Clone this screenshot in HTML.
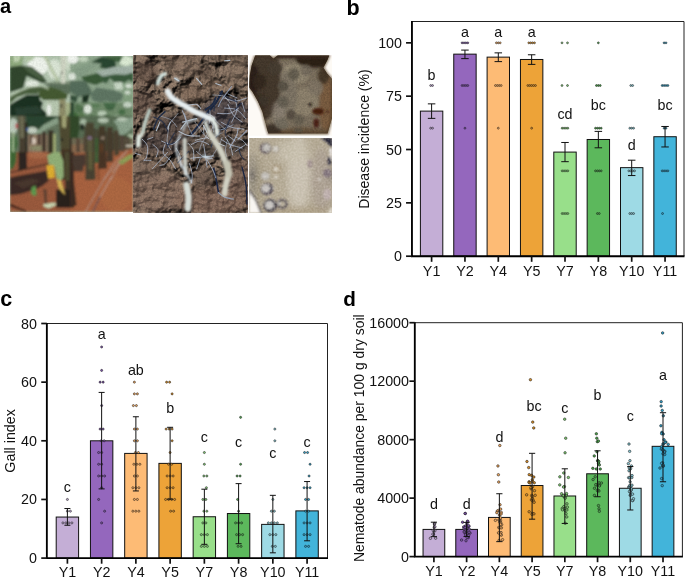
<!DOCTYPE html>
<html><head><meta charset="utf-8"><title>Figure</title>
<style>
html,body{margin:0;padding:0;background:#fff;}
body{width:685px;height:578px;overflow:hidden;font-family:"Liberation Sans", sans-serif;}
svg{display:block}
</style></head><body>
<div id="fig" style="will-change:transform;width:685px;height:578px">
<svg width="685" height="578" viewBox="0 0 685 578" font-family='"Liberation Sans", sans-serif' fill="#111">
<rect width="685" height="578" fill="#fff"/>
<defs>
<filter id="b05" x="-10%" y="-10%" width="120%" height="120%"><feGaussianBlur stdDeviation="0.8"/></filter>
<filter id="b1" x="-10%" y="-10%" width="120%" height="120%"><feGaussianBlur stdDeviation="0.8"/></filter>
<filter id="b2" x="-20%" y="-20%" width="140%" height="140%"><feGaussianBlur stdDeviation="1.8"/></filter>
<filter id="b3" x="-30%" y="-30%" width="160%" height="160%"><feGaussianBlur stdDeviation="3"/></filter>
<filter id="soil" x="0" y="0" width="100%" height="100%"><feTurbulence type="fractalNoise" baseFrequency="0.55" numOctaves="3" seed="4" result="n"/><feColorMatrix in="n" type="matrix" values="0 0 0 0 0  0 0 0 0 0  0 0 0 0 0  1.6 1.6 0 0 -1.15"/></filter>
<filter id="soilL" x="0" y="0" width="100%" height="100%"><feTurbulence type="fractalNoise" baseFrequency="0.5" numOctaves="3" seed="11" result="n"/><feColorMatrix in="n" type="matrix" values="0 0 0 0 1  0 0 0 0 0.92  0 0 0 0 0.85  0 1.6 1.6 0 -1.2"/></filter>
<filter id="clod" x="0" y="0" width="100%" height="100%"><feTurbulence type="fractalNoise" baseFrequency="0.09" numOctaves="2" seed="2" result="n"/><feColorMatrix in="n" type="matrix" values="0 0 0 0 0  0 0 0 0 0  0 0 0 0 0  2.2 2.2 0 0 -1.9"/></filter>
<filter id="bump" x="0" y="0" width="100%" height="100%" color-interpolation-filters="sRGB"><feTurbulence type="fractalNoise" baseFrequency="0.085" numOctaves="5" seed="9" result="n"/><feDiffuseLighting in="n" surfaceScale="9" diffuseConstant="1.05" lighting-color="#97816f" result="l"><feDistantLight azimuth="240" elevation="52"/></feDiffuseLighting><feComposite in="l" in2="SourceGraphic" operator="in"/></filter>
<clipPath id="c1"><rect x="10.1" y="55.9" width="123.1" height="156.0"/></clipPath>
<clipPath id="c2"><rect x="133.3" y="55.3" width="114.5" height="157.5"/></clipPath>
<clipPath id="c3"><rect x="249.2" y="55.2" width="82.8" height="80.5"/></clipPath>
<clipPath id="c4"><rect x="249.2" y="138.1" width="82.8" height="74.6"/></clipPath>
<radialGradient id="g3" cx="0.45" cy="0.5" r="0.62"><stop offset="0" stop-color="#b3a892"/><stop offset="0.55" stop-color="#9c8f79"/><stop offset="0.85" stop-color="#6b5a44"/><stop offset="1" stop-color="#46362a"/></radialGradient>
<radialGradient id="g4" cx="0.55" cy="0.45" r="0.7"><stop offset="0" stop-color="#d3cbbb"/><stop offset="0.5" stop-color="#c0b49c"/><stop offset="1" stop-color="#a59775"/></radialGradient>
<linearGradient id="gsoil1" x1="0" y1="0" x2="1" y2="1"><stop offset="0" stop-color="#8e4a2c"/><stop offset="1" stop-color="#ad5d36"/></linearGradient>
<linearGradient id="gsoil2" x1="0" y1="0" x2="0" y2="1"><stop offset="0" stop-color="#665041"/><stop offset="0.5" stop-color="#6f5747"/><stop offset="1" stop-color="#8a6652"/></linearGradient>
</defs>
<g clip-path="url(#c1)">
<rect x="10" y="55" width="124" height="158" fill="#a9bba5"/>
<g filter="url(#b1)">
<rect x="10" y="56" width="64" height="64" fill="#b4c6b0"/>
<ellipse cx="37.7" cy="66" rx="10.5" ry="9.4" fill="#eff4ec"/>
<ellipse cx="54.3" cy="69.3" rx="6.6" ry="10" fill="#dbe6d6"/>
<ellipse cx="69.8" cy="62.6" rx="5.5" ry="7.8" fill="#cfdcc8"/>
<ellipse cx="32.1" cy="83.7" rx="6.6" ry="3.3" fill="#e3ebdf"/>
<polygon points="10,56 23.8,56 22.2,65.4 10,67.1" fill="#8fab7e"/>
<polygon points="13.3,56 21.1,56 18.9,61.5 13.9,62.6" fill="#c2d5b3"/>
<polygon points="25.5,56 35.5,56 32.1,60.4 25.5,62.6" fill="#b4c9a8"/>
<polygon points="10,67.1 16.6,66 22.2,65.4 32.1,67.1 42.1,74.8 47.1,82 42.1,83.1 33.8,79.3 26.6,75.9 25,82 23.3,88.1 16.6,90.3 10,92.5" fill="#33472f"/>
<polygon points="22.2,65.7 32.1,67.1 46.5,81.7 37.7,78.1 27.7,71.5" fill="#4b6144"/>
<polygon points="39,88.1 51,86.8 58.7,89 67.8,94.2 66.7,99 56.5,100.5 43.2,99.9 38.6,95.9" fill="#445a30"/>
<polygon points="10,97.2 13.3,94.2 29.9,87.6 42.1,86.5 49,89.2 39.9,89.4 37.7,93.9 25.5,94.3 16.6,97.6 10,103.8" fill="#4a5f3c"/>
<path d="M10 96.5 L20 91.2 L29.9 87.1 L42.1 86.1 L48.3 89" fill="none" stroke="#a6b79b" stroke-width="1.4" stroke-linecap="round" stroke-linejoin="round"/>
<polygon points="43.2,83.7 54.3,81.7 74,81.2 74,94.8 67.6,93.9 58.7,89.2 51,87 46.5,85.7" fill="#5c705a"/>
<polygon points="43.8,83.5 54.3,81.6 74,81.1 74,83.9 57.6,83.7" fill="#86977f"/>
<polygon points="10,104.7 16.6,100.5 26.6,95 39,94.8 40.1,100.3 43.2,102.5 41.2,108 47.2,113.6 45.7,118.2 32.1,120 10,120" fill="#1f3024"/>
<polygon points="14.4,108 37.7,105.8 43.2,113.6 16.6,115.8" fill="#2b4030"/>
<path d="M44.9 56 L51 68.2 L57.4 80.1" fill="none" stroke="#b8c7a7" stroke-width="2.9" stroke-linecap="round" stroke-linejoin="round"/>
<path d="M63.2 56 L63.2 80.9" fill="none" stroke="#d0d6c4" stroke-width="5.1" stroke-linecap="round" stroke-linejoin="round"/>
<ellipse cx="61.8" cy="72.6" rx="0.7" ry="1.6" fill="#6a6a60"/>
<polygon points="46.5,100.3 59.8,100.3 58.7,120 46.5,120" fill="#b8c8b0"/>
<ellipse cx="49" cy="109.7" rx="2.2" ry="5.5" fill="#f0f4ee"/>
<polygon points="59.3,99.2 65.6,99.2 66,120 58.7,120" fill="#8d8c68"/>
<ellipse cx="61.2" cy="105.8" rx="1.1" ry="1.6" fill="#3a3a34"/>
<polygon points="65.9,102.5 71.1,102.5 70,120 65.9,120" fill="#a7b288"/>
<polygon points="70.9,98.1 74,98.1 74,120 69.8,120" fill="#4a5c34"/>
<rect x="70" y="56" width="63.1" height="64" fill="#8ea68c"/>
<ellipse cx="72.8" cy="58.8" rx="5.5" ry="5" fill="#f1f5ef"/>
<ellipse cx="125.9" cy="61" rx="7.5" ry="5" fill="#dcebd4"/>
<ellipse cx="72.2" cy="76.5" rx="3.8" ry="3.5" fill="#dfe8dc"/>
<ellipse cx="83.3" cy="59.1" rx="5" ry="2.9" fill="#c4d5be"/>
<polygon points="74.4,68.2 89.9,63.8 102.1,62.9 92.1,68.2 82.2,77 75.5,76.5" fill="#869e86"/>
<polygon points="91,62.1 102.1,56.6 115.4,59.9 116,66.5 106.5,69.1 99.3,67.6 101.6,63.8" fill="#2c4630"/>
<polygon points="103.2,56 123.2,56 119.3,62.9 114.3,60.4" fill="#3f6240"/>
<polygon points="81.1,77 99.9,72.6 103.2,82 95.5,85 84.4,81.7" fill="#3a5a38"/>
<polygon points="101,75.9 114.3,74.3 133.1,72.6 133.1,82.6 128.7,79.8 124.3,83.1 118.7,82 114.3,82.6 109.9,78.1 106.5,83.7 103.2,82" fill="#3a5a3c"/>
<polygon points="95.5,71.5 114.3,67.1 133.1,65.4 133.1,72.6 125.4,74.8 114.3,74.3 103.2,76.5 99.9,74.8" fill="#a3b3a8"/>
<polygon points="70,80.9 85.5,80.6 91,89.2 92.1,94.2 77.8,97 70,92" fill="#566e5b"/>
<polygon points="90.5,93.7 96.6,87.6 114.3,90.3 123.2,93.7 122,100.3 114.3,102.5 106.5,100.9 99.9,102.5 92.1,100.3" fill="#5e7663"/>
<polygon points="82.2,95.9 89.9,94.2 87.7,102.5 85.5,107.5 81.6,106.9" fill="#1f3322"/>
<polygon points="70,94.8 77.8,96.4 76.6,102.5 70,100.3" fill="#34503a"/>
<polygon points="123.2,82.6 133.1,82.6 133.1,102.5 123.2,102.5" fill="#84a080"/>
<ellipse cx="128.7" cy="85.9" rx="3.3" ry="2.2" fill="#d6e1d3"/>
<ellipse cx="127.6" cy="92.5" rx="2.9" ry="2" fill="#cfdccc"/>
<rect x="70" y="102.5" width="63.1" height="17.7" fill="#6f8a6b"/>
<ellipse cx="87.7" cy="109.2" rx="3.8" ry="4.4" fill="#dde6da"/>
<ellipse cx="127.6" cy="104.7" rx="4.4" ry="2.7" fill="#c8d6c6"/>
<ellipse cx="102.1" cy="113.6" rx="4.4" ry="2.8" fill="#b8cab4"/>
<ellipse cx="116.5" cy="117.5" rx="5.5" ry="2.2" fill="#a9bfa5"/>
<ellipse cx="109.9" cy="107.2" rx="4.2" ry="3.3" fill="#3f6040"/>
<ellipse cx="73.3" cy="116.4" rx="5.3" ry="5" fill="#456a3e"/>
<ellipse cx="122" cy="111.9" rx="3.5" ry="2.9" fill="#4a6e48"/>
<ellipse cx="81.1" cy="115.8" rx="3.3" ry="2.8" fill="#5a7a50"/>
<ellipse cx="95.5" cy="105.8" rx="4.4" ry="2.4" fill="#5d7f5a"/>
<polygon points="70,101.4 74.4,102.5 73.3,120 70,120" fill="#2f4a30"/>
<polygon points="113.7,82.6 122,82 123.2,89.2 115.4,89.8" fill="#c9d8c6"/>
<polygon points="103.2,102.5 116.5,103.1 114.3,108 105.4,108" fill="#456a47"/>
<polygon points="76.6,103.6 84.4,108 81.1,113.6 74.4,110.3" fill="#50704c"/>
<ellipse cx="106.5" cy="118" rx="5" ry="3.3" fill="#3c5c3a"/>
<ellipse cx="92.1" cy="118" rx="4.4" ry="2.7" fill="#44643f"/>
<rect x="10" y="116" width="64" height="37.7" fill="#65765e"/>
<polygon points="25.5,116 58.7,116 58.7,120.4 43.2,127.1 32.1,137 26.6,132.6" fill="#2f4632"/>
<ellipse cx="13.3" cy="126" rx="4.4" ry="7.8" fill="#bccbbb"/>
<ellipse cx="32.1" cy="130.4" rx="5.5" ry="3.3" fill="#c4cfc0"/>
<polygon points="26.6,118.2 43.2,117.7 44.3,124.9 27.7,125.4" fill="#2c4430"/>
<polygon points="32.1,135.9 43.2,124.9 57.6,117.1 58.7,122.9 47.7,128.4 35.5,137.3" fill="#8aa088"/>
<polygon points="27.7,134.3 47.7,134.3 47.7,152.8 27.7,152.8" fill="#8c7762"/>
<ellipse cx="33.5" cy="141" rx="2.4" ry="3.3" fill="#dccdbd"/>
<ellipse cx="37.7" cy="148.1" rx="7.8" ry="2.4" fill="#8a8a68"/>
<polygon points="37.7,133.7 40.6,133.7 40.6,145 37.7,145" fill="#4a3a30"/>
<polygon points="42.1,131.5 45.7,131.5 45.7,151.7 42.1,151.7" fill="#3c3228"/>
<polygon points="29.9,134.8 32.1,134.8 32.1,143.7 29.9,143.7" fill="#5a4a3c"/>
<polygon points="10,153.1 48.2,152 48.2,180 10,180" fill="#8d553b"/>
<polygon points="70,147.6 133.1,143.7 133.1,180 70,180" fill="#9d5d40"/>
<rect x="10" y="152" width="64" height="59.8" fill="#9a5a3c"/>
<rect x="70" y="152" width="63.1" height="59.8" fill="#a8623f"/>
<ellipse cx="37.7" cy="155.3" rx="10" ry="3.3" fill="#a96a48"/>
<ellipse cx="116.5" cy="194.1" rx="16.6" ry="17.7" fill="#ad6743"/>
<polygon points="10,138.1 16.6,135.9 17.8,144.8 14.4,152.5 10,162.5" fill="#3f6a3a"/>
<path d="M13.3 132.6 L13.1 160.3" fill="none" stroke="#a8c098" stroke-width="1.8" stroke-linecap="round" stroke-linejoin="round"/>
<polygon points="10,152 16.6,152 16.1,162 13.3,168.6 10,169.7" fill="#3f6636"/>
<polygon points="17.8,116 25,116 25.5,138.1 26.6,168 18.3,171.4 19.4,143.7" fill="#4a4032"/>
<polygon points="19.1,116 23.8,116 24.2,138.1 20,138.1" fill="#6c6b52"/>
<polygon points="25,122.6 27.3,122.6 27.7,152.5 25.5,152.5" fill="#2c2a24"/>
<ellipse cx="16.6" cy="126" rx="1" ry="3.1" fill="#b8343f"/>
<ellipse cx="27.2" cy="129.3" rx="1.1" ry="1.8" fill="#3a5a9a"/>
<polygon points="18.3,152 26.6,152 27.2,168.6 18.9,170.8" fill="#2e2822"/>
<polygon points="48.2,130.4 53.4,130.4 53.4,153.1 48.2,153.1" fill="#3a3428"/>
<path d="M54.5 134.8 L54.5 153.1" fill="none" stroke="#a8b478" stroke-width="2.4" stroke-linecap="round" stroke-linejoin="round"/>
<polygon points="58.7,116 69.8,116 70.7,180 61.2,180 60.7,149.2" fill="#504c31"/>
<polygon points="61.8,116 66.7,116 65.9,128.2 62,127.1" fill="#a3a476"/>
<polygon points="60.9,149.2 70.7,149.2 71.1,180 61.2,180" fill="#453626"/>
<polygon points="69.8,116 74,116 74,180 70.4,180" fill="#39492c"/>
<ellipse cx="62" cy="139.8" rx="1.6" ry="1.3" fill="#252520"/>
<rect x="70" y="116" width="63.1" height="32.1" fill="#586c52"/>
<polygon points="70,116 78.9,116 79.4,129.3 76.6,143.7 70,144.8" fill="#304a2c"/>
<polygon points="113.2,120.4 133.1,117.1 133.1,127.1 127.6,132.6 118.7,137 117.6,127.1" fill="#8ba28c"/>
<ellipse cx="103.2" cy="120.4" rx="5.5" ry="2.7" fill="#b2c3ae"/>
<ellipse cx="122" cy="119.3" rx="5.5" ry="2" fill="#b9c9b5"/>
<ellipse cx="83.3" cy="122.6" rx="3.3" ry="3.8" fill="#a5b8a1"/>
<ellipse cx="82.2" cy="127.1" rx="2" ry="3.3" fill="#222a20"/>
<ellipse cx="130.4" cy="137" rx="2.8" ry="3.3" fill="#a8bca0"/>
<rect x="70" y="138.1" width="63.1" height="10" fill="#6f6a52"/>
<polygon points="84.4,126 129.8,137 129.8,149.2 84.4,153.1" fill="#4a4a38"/>
<polygon points="70,144.8 85.5,143.7 85.5,152.5 70,153.7" fill="#8a6a50"/>
<polygon points="76.1,138.1 80,138.1 80,152.5 76.1,152.5" fill="#5a4a3a"/>
<polygon points="83.3,135.9 86.1,135.9 86.1,151.4 83.3,151.4" fill="#54483a"/>
<polygon points="85.5,122.6 93.8,122.6 94.9,180 85.5,180" fill="#4a4532"/>
<polygon points="87.7,137 92.1,137 92.6,162.5 87.7,162.5" fill="#5c5a3e"/>
<ellipse cx="89.7" cy="138.1" rx="2.4" ry="2" fill="#7c6a80"/>
<polygon points="94.9,138.1 98.3,138.1 98.3,162.5 94.9,162.5" fill="#3f5c34"/>
<polygon points="99,126 105.4,126 106.5,168 98.2,169.2" fill="#453a2c"/>
<polygon points="99.5,143.7 103.2,143.7 103.7,162.5 99.5,162.5" fill="#5a3a28"/>
<ellipse cx="102.8" cy="138.1" rx="2" ry="1.8" fill="#8a7a6a"/>
<polygon points="107.1,127.1 112.6,127.1 113.2,160.3 106.5,161.4" fill="#473d2e"/>
<polygon points="113.7,130.4 118.7,130.4 119.3,154.8 114.3,155.9" fill="#4c4232"/>
<polygon points="119.8,135.9 124.3,135.9 124.3,151.4 119.8,151.4" fill="#52473a"/>
<polygon points="124.8,138.1 128.7,138.1 128.7,148.1 124.8,148.1" fill="#5a5040"/>
<polygon points="70,138.1 71.7,138.1 71.7,180 70,180" fill="#2e2620"/>
<polygon points="70,154.8 84.4,154.8 83.3,171.4 70,171.4" fill="#4a3a30"/>
<polygon points="118.7,162.5 132,153.7 133.1,157.2 122,164.9" fill="#8a9a58"/>
<polygon points="125.9,145 133.1,145 133.1,146.6 125.9,146.6" fill="#d8d0c0"/>
<path d="M128.7 148.1 L118.7 162.5 L103.2 180" fill="none" stroke="#b8b0a8" stroke-width="0.6" stroke-linecap="round" stroke-linejoin="round" opacity="0.8"/>
<path d="M119.8 163.6 L111 180" fill="none" stroke="#b8b0a8" stroke-width="0.6" stroke-linecap="round" stroke-linejoin="round" opacity="0.8"/>
<polygon points="10,177.5 21.1,175.3 46.5,170.8 48.8,180.8 43.2,185.2 37.7,188.5 21.1,194.1 10,195.2" fill="#3a2b25"/>
<polygon points="13.3,183 32.1,178.6 41,181 23.3,188.5" fill="#4a372f"/>
<path d="M10 172.5 L27.7 168.6 L52.1 163.1" fill="none" stroke="#3a2a24" stroke-width="1.1" stroke-linecap="round" stroke-linejoin="round"/>
<polygon points="31.6,187.4 35.5,185.2 36.6,195.2 33.3,195.7 31,193" fill="#5f9a50"/>
<polygon points="63.2,152 74,152 74,207.4 56.5,207.4 57.6,189.7 65.4,188.5" fill="#3e3226"/>
<polygon points="64.8,152 69.2,152 69.2,180.8 65.4,180.8" fill="#504b30"/>
<polygon points="56,189.7 74,189.7 74,207.4 56,207.4" fill="#2c221e"/>
<polygon points="47.1,155.3 54.3,152 59.8,152 63.2,160.9 63.7,176.4 60.9,180.8 56.5,178.6 54.3,166.4 48.8,164.2" fill="#92b078"/>
<polygon points="46.5,165.3 53.7,165.1 54.9,177.5 48.2,178.6" fill="#e0b030"/>
<polygon points="56.5,178.6 60.9,180.8 65.4,195.2 62,191.9 58.7,187.4" fill="#d8b858"/>
<polygon points="43.2,204 55.4,202.4 56,205.2 48.8,208.5 43.8,206.8" fill="#c8d4b0"/>
<polygon points="43.2,188.5 46.5,189.7 47.1,204 44.9,204" fill="#5a4030"/>
<polygon points="10,203.5 26.6,210.7 25.5,212 10,206.3" fill="#3a241c"/>
<polygon points="70,152 72.2,152 74.4,185.2 76.6,205.2 70,207.4" fill="#3a2c24"/>
<polygon points="86.6,152 94.4,152 95.7,178.6 85.5,179.7" fill="#4a4330"/>
<polygon points="88.3,152 92.1,152 92.6,169.7 88.3,169.7" fill="#5f5c3a"/>
<polygon points="98.8,152 105.4,152 107.1,168.6 98.2,168.6" fill="#4a3428"/>
<polygon points="107.1,152 111.5,152 113.2,162 106.5,162" fill="#4a3a2e"/>
<polygon points="94.9,152 98.2,152 98.2,163.1 94.9,163.1" fill="#40603a"/>
<polygon points="72.2,155.3 85.5,154.2 85.5,165.3 73.3,169.7" fill="#4a3a30"/>
<polygon points="117.6,162 129.8,154.2 132,157.5 122,163.6" fill="#8fa058"/>
<path d="M126.5 152 L114.3 163.1 L103.2 180.8 L85.5 211.8" fill="none" stroke="#b8b0ac" stroke-width="0.7" stroke-linecap="round" stroke-linejoin="round" opacity="0.95"/>
<path d="M119.3 163.1 L112.6 173" fill="none" stroke="#bdb6b4" stroke-width="0.7" stroke-linecap="round" stroke-linejoin="round" opacity="0.95"/>
<path d="M112.1 175.8 L99.9 197.4" fill="none" stroke="#c0bcc0" stroke-width="0.7" stroke-linecap="round" stroke-linejoin="round" opacity="0.9"/>
<path d="M99.9 197.4 L92.7 211.8" fill="none" stroke="#474c60" stroke-width="1" stroke-linecap="round" stroke-linejoin="round"/>
<path d="M98.2 166.4 L98.8 179.7" fill="none" stroke="#5a3a28" stroke-width="0.9" stroke-linecap="round" stroke-linejoin="round"/>
</g>
<rect x="10" y="55" width="124" height="158" filter="url(#soil)" opacity="0.05"/>
</g>
<g clip-path="url(#c2)">
<rect x="133" y="55" width="116" height="159" fill="#7a6355"/>
<rect x="133" y="55" width="116" height="159" fill="#000" filter="url(#bump)"/>
<g filter="url(#b3)" opacity="0.62">
<ellipse cx="182.6" cy="66" rx="19.3" ry="10.5" fill="#927a69"/>
<ellipse cx="236.9" cy="71.3" rx="12.3" ry="15.8" fill="#8f7968"/>
<ellipse cx="214.1" cy="85.3" rx="10.5" ry="7" fill="#937a68"/>
<ellipse cx="193.1" cy="93.2" rx="14" ry="8.8" fill="#8a715f"/>
<ellipse cx="145.8" cy="73" rx="12.3" ry="12.3" fill="#6a5549"/>
<ellipse cx="144" cy="104.6" rx="12.3" ry="14" fill="#66534a"/>
<ellipse cx="228.1" cy="56.2" rx="21" ry="3.2" fill="#3e3029"/>
<ellipse cx="173.8" cy="56.2" rx="26.3" ry="2.1" fill="#42332b"/>
<ellipse cx="205.3" cy="73" rx="8.8" ry="5.3" fill="#4a3a31"/>
<ellipse cx="224.6" cy="113.3" rx="24.5" ry="15.8" fill="#45404a"/>
<ellipse cx="173.8" cy="123.8" rx="21" ry="10.5" fill="#4d4340"/>
<ellipse cx="165" cy="142.8" rx="31.5" ry="10.5" fill="#4b413f"/>
<ellipse cx="214.1" cy="146.3" rx="35" ry="12.3" fill="#4f4643"/>
<ellipse cx="156.3" cy="191.8" rx="29.8" ry="21" fill="#96796a"/>
<ellipse cx="212.3" cy="200.6" rx="38.5" ry="14" fill="#8f6e5e"/>
<ellipse cx="238.6" cy="177.8" rx="12.3" ry="21" fill="#82665a"/>
<ellipse cx="147.5" cy="167.3" rx="15.8" ry="8.8" fill="#806a5d"/>
<ellipse cx="203.6" cy="177.8" rx="10.5" ry="12.3" fill="#6c5a4f"/>
</g>
<rect x="133" y="55" width="116" height="159" filter="url(#soil)" opacity="0.16"/>
<g>
<path d="M222 91.4 C221 93.3 218.3 99.2 215.8 102.8 C213.4 106.5 210 109.5 207.1 113.3 C204.2 117.1 201 122.1 198.3 125.6 C195.7 129 192.5 132.6 191.3 134" fill="none" stroke="#1b2740" stroke-width="2.1" stroke-linecap="round" stroke-linejoin="round"/>
<path d="M215.8 97.6 C215.3 98.7 214.1 102.5 212.3 104.6 C210.6 106.6 206.5 108.9 205.3 109.8" fill="none" stroke="#1d2a45" stroke-width="1.6" stroke-linecap="round" stroke-linejoin="round"/>
<path d="M165 111.6 C163.9 112.7 159.9 115.7 158 118.6 C156.1 121.5 154.4 127.3 153.7 129.1" fill="none" stroke="#232d42" stroke-width="1.6" stroke-linecap="round" stroke-linejoin="round"/>
<path d="M213.7 168.2 C214.2 170.1 215.4 175.5 216.2 179.6 C217 183.6 218.1 190.5 218.5 192.7" fill="none" stroke="#1d2744" stroke-width="1.6" stroke-linecap="round" stroke-linejoin="round"/>
<path d="M242.1 167.3 C242.8 170.2 245.2 178.7 246 184.8 C246.8 190.9 246.9 200.9 247 204.1" fill="none" stroke="#1b2540" stroke-width="1.4" stroke-linecap="round" stroke-linejoin="round"/>
<path d="M218.5 192.7 C219.5 193.4 222.1 196 224.6 197.1 C227.1 198.1 231.9 198.8 233.4 199.2" fill="none" stroke="#8d9bb0" stroke-width="1.2" stroke-linecap="round" stroke-linejoin="round"/>
<path d="M222.9 97.6 C224.9 98.1 231.1 101 235.1 101.1 C239.1 101.1 245 98.4 247 97.9" fill="none" stroke="#a9b7cc" stroke-width="0.9" stroke-linecap="round" stroke-linejoin="round" opacity="0.85"/>
<path d="M224.6 108.1 C226.6 108.4 233.4 108.1 236.9 109.8 C240.4 111.6 244.2 117.1 245.6 118.6" fill="none" stroke="#a9b7cc" stroke-width="0.9" stroke-linecap="round" stroke-linejoin="round" opacity="0.85"/>
<path d="M228.1 104.6 C229 106.3 231 112.1 233.4 115.1 C235.7 118 240.7 120.9 242.1 122.1" fill="none" stroke="#a9b7cc" stroke-width="0.9" stroke-linecap="round" stroke-linejoin="round" opacity="0.85"/>
<path d="M217.6 113.3 C219.6 113.3 226.4 114.2 229.9 113.3 C233.4 112.4 237.2 108.9 238.6 108.1" fill="none" stroke="#a9b7cc" stroke-width="0.9" stroke-linecap="round" stroke-linejoin="round" opacity="0.85"/>
<path d="M235.1 99.3 C235.4 101.1 237.5 106 236.9 109.8 C236.3 113.6 232.5 120 231.6 122.1" fill="none" stroke="#a9b7cc" stroke-width="0.9" stroke-linecap="round" stroke-linejoin="round" opacity="0.85"/>
<path d="M221.1 122.1 C222.9 123 227.8 126.2 231.6 127.3 C235.4 128.5 241.8 128.8 243.9 129.1" fill="none" stroke="#a9b7cc" stroke-width="0.9" stroke-linecap="round" stroke-linejoin="round" opacity="0.85"/>
<path d="M242.1 102.8 C242.6 104.3 244.3 110.1 244.8 111.6" fill="none" stroke="#a9b7cc" stroke-width="0.9" stroke-linecap="round" stroke-linejoin="round" opacity="0.85"/>
<path d="M228.1 94 C229.6 94.7 235.4 97.3 236.9 97.9" fill="none" stroke="#a9b7cc" stroke-width="0.9" stroke-linecap="round" stroke-linejoin="round" opacity="0.85"/>
<path d="M182.6 122.1 C183.7 121.8 187.2 120.9 189.6 120.3 C191.9 119.7 195.4 118.9 196.6 118.6" fill="none" stroke="#b7c6d6" stroke-width="1.1" stroke-linecap="round" stroke-linejoin="round" opacity="0.9"/>
<path d="M180.8 129.1 C181.7 127.9 185.2 123.2 186.1 122.1" fill="none" stroke="#b7c6d6" stroke-width="1.1" stroke-linecap="round" stroke-linejoin="round" opacity="0.9"/>
<path d="M170.3 122.1 C169.9 123.2 168.1 127.9 167.7 129.1" fill="none" stroke="#b7c6d6" stroke-width="1.1" stroke-linecap="round" stroke-linejoin="round" opacity="0.9"/>
<path d="M159.8 122.1 C159.2 123.5 156.9 129.4 156.3 130.8" fill="none" stroke="#b7c6d6" stroke-width="1.1" stroke-linecap="round" stroke-linejoin="round" opacity="0.9"/>
<path d="M203.6 125.6 C204.2 126.7 206.5 131.4 207.1 132.6" fill="none" stroke="#b7c6d6" stroke-width="1.1" stroke-linecap="round" stroke-linejoin="round" opacity="0.9"/>
<path d="M196.6 78.3 C197.4 79.3 201 83.4 201.8 84.4" fill="none" stroke="#b7c6d6" stroke-width="1.1" stroke-linecap="round" stroke-linejoin="round" opacity="0.9"/>
<path d="M215.8 83.5 C216.7 83.8 220.2 85 221.1 85.3" fill="none" stroke="#b7c6d6" stroke-width="1.1" stroke-linecap="round" stroke-linejoin="round" opacity="0.9"/>
<path d="M174.7 78.3 C175.4 78.7 178.3 80.5 179.1 80.9" fill="none" stroke="#b7c6d6" stroke-width="1.1" stroke-linecap="round" stroke-linejoin="round" opacity="0.9"/>
<path d="M224.6 60.8 C225.5 60.7 229 60.5 229.9 60.4" fill="none" stroke="#b7c6d6" stroke-width="1.1" stroke-linecap="round" stroke-linejoin="round" opacity="0.9"/>
<path d="M142.3 139.3 C143.1 140.4 146.8 143.3 147.5 146.3 C148.2 149.2 147.2 154.4 146.6 156.8 C146.1 159.1 144.5 159.7 144 160.3" fill="none" stroke="#aebbd0" stroke-width="0.9" stroke-linecap="round" stroke-linejoin="round" opacity="0.85"/>
<path d="M144 160.3 C145.2 160.3 149.9 160.3 151 160.3" fill="none" stroke="#aebbd0" stroke-width="0.9" stroke-linecap="round" stroke-linejoin="round" opacity="0.85"/>
<path d="M152.8 144.5 C153.7 145.4 157.4 147.7 158 149.8 C158.6 151.8 156.6 155.6 156.3 156.8" fill="none" stroke="#aebbd0" stroke-width="0.9" stroke-linecap="round" stroke-linejoin="round" opacity="0.85"/>
<path d="M165 144.5 C164.7 146 162.4 150.6 163.3 153.3 C164.2 155.9 168.3 157.7 170.3 160.3 C172.3 162.9 174.7 167.6 175.6 169" fill="none" stroke="#aebbd0" stroke-width="0.9" stroke-linecap="round" stroke-linejoin="round" opacity="0.85"/>
<path d="M161.5 141 C163.3 141.6 168.8 145.1 172 144.5 C175.3 143.9 179.3 138.7 180.8 137.5" fill="none" stroke="#aebbd0" stroke-width="0.9" stroke-linecap="round" stroke-linejoin="round" opacity="0.85"/>
<path d="M191.3 144.5 C192.8 143.9 197.2 141 200.1 141 C203 141 207.4 143.9 208.8 144.5" fill="none" stroke="#aebbd0" stroke-width="0.9" stroke-linecap="round" stroke-linejoin="round" opacity="0.85"/>
<path d="M196.6 151.5 C197.7 152.4 201 155.6 203.6 156.8 C206.2 157.9 210.9 158.2 212.3 158.5" fill="none" stroke="#aebbd0" stroke-width="0.9" stroke-linecap="round" stroke-linejoin="round" opacity="0.85"/>
<path d="M203.6 144.5 C203.9 146.3 204.7 151.2 205.3 155 C205.9 158.8 206.8 165.2 207.1 167.3" fill="none" stroke="#aebbd0" stroke-width="0.9" stroke-linecap="round" stroke-linejoin="round" opacity="0.85"/>
<path d="M221.1 139.3 C222.6 140.1 226.4 143.1 229.9 144.5 C233.4 146 240.1 147.4 242.1 148" fill="none" stroke="#aebbd0" stroke-width="0.9" stroke-linecap="round" stroke-linejoin="round" opacity="0.85"/>
<path d="M228.1 135.8 C229.3 136.6 233.9 140.1 235.1 141" fill="none" stroke="#aebbd0" stroke-width="0.9" stroke-linecap="round" stroke-linejoin="round" opacity="0.85"/>
<path d="M189.6 163.8 C190 165.5 191.9 171.1 192.2 174.3 C192.5 177.5 191.5 181.6 191.3 183.1" fill="none" stroke="#aebbd0" stroke-width="0.9" stroke-linecap="round" stroke-linejoin="round" opacity="0.85"/>
<path d="M200.1 158.5 C199.5 160.3 197.2 167.3 196.6 169" fill="none" stroke="#aebbd0" stroke-width="0.9" stroke-linecap="round" stroke-linejoin="round" opacity="0.85"/>
<path d="M170.3 156.8 C169.4 157.9 166.8 162.3 165 163.8 C163.3 165.2 160.7 165.2 159.8 165.5" fill="none" stroke="#aebbd0" stroke-width="0.9" stroke-linecap="round" stroke-linejoin="round" opacity="0.85"/>
<path d="M135.3 153.3 C136.1 153.6 139.6 154.7 140.5 155" fill="none" stroke="#aebbd0" stroke-width="0.9" stroke-linecap="round" stroke-linejoin="round" opacity="0.85"/>
<path d="M235.1 151.5 C236.9 150.4 243.9 145.7 245.6 144.5" fill="none" stroke="#aebbd0" stroke-width="0.9" stroke-linecap="round" stroke-linejoin="round" opacity="0.85"/>
<path d="M207.1 160.3 C208 161.7 210.9 166.1 212.3 169 C213.8 172 215.3 176.3 215.8 177.8" fill="none" stroke="#aebbd0" stroke-width="0.9" stroke-linecap="round" stroke-linejoin="round" opacity="0.85"/>
<path d="M147.5 139.3 C148.4 139 151.9 137.8 152.8 137.5" fill="none" stroke="#aebbd0" stroke-width="0.9" stroke-linecap="round" stroke-linejoin="round" opacity="0.85"/>
<path d="M174.4 133.1 C173.5 134.6 170.3 139.8 169.2 142.3 C168.1 144.8 167.9 147 167.7 147.9" fill="none" stroke="#252f47" stroke-width="1.1" stroke-linecap="round" stroke-linejoin="round" opacity="0.85"/>
<path d="M227.4 139.8 C227.1 141.5 225.5 147 225.4 149.8 C225.3 152.6 226.5 155.4 226.8 156.5" fill="none" stroke="#a9b7cc" stroke-width="0.7" stroke-linecap="round" stroke-linejoin="round" opacity="0.8"/>
<path d="M179 131.4 C180.5 132.1 184.3 134.7 187.7 135.4 C191.2 136.2 197.8 135.9 199.8 136" fill="none" stroke="#b9c7d8" stroke-width="1.1" stroke-linecap="round" stroke-linejoin="round" opacity="0.8"/>
<path d="M167.7 152.2 C166.6 153.5 163.4 157 160.8 159.7 C158.2 162.5 153.8 167.2 152.4 168.7" fill="none" stroke="#a9b7cc" stroke-width="0.9" stroke-linecap="round" stroke-linejoin="round" opacity="0.8"/>
<path d="M209.8 130.3 C208.5 132.5 203.3 140.3 201.5 143.8 C199.8 147.3 199.6 150 199.2 151.3" fill="none" stroke="#a9b7cc" stroke-width="0.7" stroke-linecap="round" stroke-linejoin="round" opacity="0.8"/>
<path d="M219.7 92.2 C221 93.1 225 96.1 227.9 97.7 C230.9 99.3 235.8 101.3 237.4 102" fill="none" stroke="#252f47" stroke-width="1.1" stroke-linecap="round" stroke-linejoin="round" opacity="0.85"/>
<path d="M168.8 128.1 C168.5 130.4 166.8 138 167.1 141.6 C167.4 145.2 170.2 148.4 170.8 149.7" fill="none" stroke="#b9c7d8" stroke-width="0.7" stroke-linecap="round" stroke-linejoin="round" opacity="0.8"/>
<path d="M222.1 137.4 C221.6 138.7 220.9 141.9 219 145.3 C217.1 148.8 212.2 156.1 210.8 158.3" fill="none" stroke="#a9b7cc" stroke-width="0.7" stroke-linecap="round" stroke-linejoin="round" opacity="0.8"/>
<path d="M203.9 125.4 C203.9 126.9 203.3 132 204.1 134.3 C204.9 136.5 208 137.9 208.8 138.7" fill="none" stroke="#c9d4e0" stroke-width="0.9" stroke-linecap="round" stroke-linejoin="round" opacity="0.8"/>
<path d="M184.6 113.6 C185.2 115.6 186.8 122 188.2 125.8 C189.6 129.6 192.4 134.7 193.2 136.5" fill="none" stroke="#a9b7cc" stroke-width="0.7" stroke-linecap="round" stroke-linejoin="round" opacity="0.8"/>
<path d="M174.9 142 C173.7 142.5 169.2 144.8 167.8 144.9 C166.3 145 166.4 142.9 166.1 142.5" fill="none" stroke="#252f47" stroke-width="1.1" stroke-linecap="round" stroke-linejoin="round" opacity="0.85"/>
<path d="M211.4 122.9 C211.6 123.5 213.4 124.4 212.9 126.6 C212.3 128.9 209.1 134.7 208.3 136.4" fill="none" stroke="#a9b7cc" stroke-width="0.7" stroke-linecap="round" stroke-linejoin="round" opacity="0.8"/>
<path d="M222.2 132.9 C221.4 133.2 219.8 133.6 217.8 134.8 C215.7 135.9 211.3 139 210 139.9" fill="none" stroke="#93a3bd" stroke-width="0.7" stroke-linecap="round" stroke-linejoin="round" opacity="0.8"/>
<path d="M225.2 137.1 C226 138.5 228.8 142 230.1 145.1 C231.3 148.1 232.3 153.5 232.7 155.2" fill="none" stroke="#b9c7d8" stroke-width="0.9" stroke-linecap="round" stroke-linejoin="round" opacity="0.8"/>
<path d="M241.4 103.1 C240.7 103.8 238.3 106.3 237.3 107.3 C236.3 108.4 235.5 109.2 235.2 109.6" fill="none" stroke="#252f47" stroke-width="1.1" stroke-linecap="round" stroke-linejoin="round" opacity="0.85"/>
<path d="M207.7 137.8 C206.7 137.9 204 138.2 201.9 138.6 C199.8 139.1 196.4 140 195.3 140.3" fill="none" stroke="#c9d4e0" stroke-width="0.9" stroke-linecap="round" stroke-linejoin="round" opacity="0.8"/>
<path d="M229.6 124.8 C228.7 125.4 225.3 127.9 223.9 128.6 C222.5 129.4 221.7 129.3 221.3 129.5" fill="none" stroke="#93a3bd" stroke-width="0.7" stroke-linecap="round" stroke-linejoin="round" opacity="0.8"/>
<path d="M186.9 105.3 C188.5 105.2 194 103.8 196.3 104.3 C198.6 104.8 199.9 107.7 200.6 108.4" fill="none" stroke="#b9c7d8" stroke-width="1.1" stroke-linecap="round" stroke-linejoin="round" opacity="0.8"/>
<path d="M212.8 95 C214.6 95.2 221.1 95.1 224 96.4 C226.8 97.8 229 101.9 230 103" fill="none" stroke="#c9d4e0" stroke-width="0.7" stroke-linecap="round" stroke-linejoin="round" opacity="0.8"/>
<path d="M239.1 149 C239.4 150 239.8 153.2 240.6 154.9 C241.3 156.6 243.2 158.5 243.7 159.2" fill="none" stroke="#252f47" stroke-width="1.1" stroke-linecap="round" stroke-linejoin="round" opacity="0.85"/>
<path d="M233.1 124.7 C231.4 125.5 225.6 128.7 223 129.5 C220.5 130.3 218.5 129.6 217.6 129.7" fill="none" stroke="#93a3bd" stroke-width="0.7" stroke-linecap="round" stroke-linejoin="round" opacity="0.8"/>
<path d="M231.5 86.5 C229.9 88.7 224.1 96.2 221.9 99.5 C219.7 102.8 219 105.2 218.4 106.4" fill="none" stroke="#93a3bd" stroke-width="1.1" stroke-linecap="round" stroke-linejoin="round" opacity="0.8"/>
<path d="M176.2 148.3 C176.9 149.6 179.4 153 180.2 156.2 C181 159.3 180.9 165.4 181 167.2" fill="none" stroke="#b9c7d8" stroke-width="0.7" stroke-linecap="round" stroke-linejoin="round" opacity="0.8"/>
<path d="M161.1 116.3 C162.7 116.9 168.1 118 170.8 119.7 C173.4 121.5 175.8 125.6 176.8 126.8" fill="none" stroke="#a9b7cc" stroke-width="0.7" stroke-linecap="round" stroke-linejoin="round" opacity="0.8"/>
<path d="M215.7 97.1 C215.5 98.3 215.1 101.7 214.8 104 C214.5 106.3 214.1 109.7 214 110.9" fill="none" stroke="#252f47" stroke-width="1.1" stroke-linecap="round" stroke-linejoin="round" opacity="0.85"/>
<path d="M178.1 113.4 C176.7 115 171.6 120.9 169.9 123.2 C168.1 125.4 167.8 126.5 167.4 127.2" fill="none" stroke="#a9b7cc" stroke-width="0.7" stroke-linecap="round" stroke-linejoin="round" opacity="0.8"/>
<path d="M188.1 143.4 C189 144.5 192.2 146.8 193.2 149.6 C194.1 152.4 193.6 158.5 193.7 160.2" fill="none" stroke="#b9c7d8" stroke-width="0.9" stroke-linecap="round" stroke-linejoin="round" opacity="0.8"/>
<path d="M246.8 130.5 C245.7 131.6 241.7 135.7 240.2 137.2 C238.8 138.7 238.4 139.2 238 139.5" fill="none" stroke="#93a3bd" stroke-width="1.1" stroke-linecap="round" stroke-linejoin="round" opacity="0.8"/>
<path d="M230 119.1 C229.2 121 225.9 127.5 225.3 130.3 C224.6 133.2 225.9 135.1 226.1 136" fill="none" stroke="#252f47" stroke-width="1.1" stroke-linecap="round" stroke-linejoin="round" opacity="0.85"/>
<path d="M209.8 110.1 C209.8 111.1 210.3 113.8 210.2 116 C210.1 118.2 209.3 122.2 209.1 123.5" fill="none" stroke="#b9c7d8" stroke-width="0.7" stroke-linecap="round" stroke-linejoin="round" opacity="0.8"/>
<path d="M207.4 114 C208.2 114.3 211 115 212.4 115.9 C213.7 116.9 214.8 119.2 215.3 119.8" fill="none" stroke="#c9d4e0" stroke-width="0.7" stroke-linecap="round" stroke-linejoin="round" opacity="0.8"/>
<path d="M238 128.1 C237.8 129.3 238.2 131.7 236.8 135 C235.5 138.3 230.9 145.8 229.7 148" fill="none" stroke="#a9b7cc" stroke-width="1.1" stroke-linecap="round" stroke-linejoin="round" opacity="0.8"/>
<path d="M214.3 117.1 C214.1 118.4 213.4 122.6 213.3 125.1 C213.1 127.6 213.4 130.8 213.5 131.9" fill="none" stroke="#b9c7d8" stroke-width="0.7" stroke-linecap="round" stroke-linejoin="round" opacity="0.8"/>
<path d="M153.6 117 C155.1 117.8 160.3 119.6 162.6 121.9 C165 124.2 166.9 129.4 167.7 130.9" fill="none" stroke="#252f47" stroke-width="1.1" stroke-linecap="round" stroke-linejoin="round" opacity="0.85"/>
<path d="M215.5 120.3 C216.4 121.2 219 123.8 220.9 125.4 C222.7 127.1 225.5 129.6 226.4 130.4" fill="none" stroke="#a9b7cc" stroke-width="0.7" stroke-linecap="round" stroke-linejoin="round" opacity="0.8"/>
<path d="M206.3 118.8 C205.4 120 203.3 123 200.9 125.9 C198.5 128.9 193.4 134.8 192 136.5" fill="none" stroke="#93a3bd" stroke-width="0.7" stroke-linecap="round" stroke-linejoin="round" opacity="0.8"/>
<path d="M195 122.1 C195.8 123 198 126 199.4 128 C200.8 130 202.8 133.1 203.5 134.2" fill="none" stroke="#a9b7cc" stroke-width="0.7" stroke-linecap="round" stroke-linejoin="round" opacity="0.8"/>
<path d="M182.4 110.8 C182.7 111.6 183.9 113.9 184.5 115.7 C185.2 117.4 185.8 120.3 186.1 121.2" fill="none" stroke="#a9b7cc" stroke-width="1.1" stroke-linecap="round" stroke-linejoin="round" opacity="0.8"/>
<path d="M188.9 151.1 C187.5 152.5 182.7 157.5 180.8 159.4 C179 161.4 178.3 162.2 177.8 162.8" fill="none" stroke="#252f47" stroke-width="1.1" stroke-linecap="round" stroke-linejoin="round" opacity="0.85"/>
<path d="M236.1 137.2 C237.2 137.8 240.7 139.1 242.6 140.5 C244.5 141.9 246.5 144.8 247.3 145.7" fill="none" stroke="#b9c7d8" stroke-width="0.9" stroke-linecap="round" stroke-linejoin="round" opacity="0.8"/>
<path d="M213.7 155.9 C211.8 156.1 206.1 156.6 202.3 157 C198.5 157.4 192.8 158 190.9 158.2" fill="none" stroke="#b9c7d8" stroke-width="1.1" stroke-linecap="round" stroke-linejoin="round" opacity="0.8"/>
<path d="M211.2 138.7 C212.2 139.4 215 141.7 217.1 142.8 C219.3 144 223.1 145.3 224.3 145.8" fill="none" stroke="#c9d4e0" stroke-width="1.1" stroke-linecap="round" stroke-linejoin="round" opacity="0.8"/>
<path d="M220.4 131.2 C219.2 132.9 214.8 139.1 213.2 141.7 C211.7 144.4 211.5 146.3 211.1 147.2" fill="none" stroke="#252f47" stroke-width="1.1" stroke-linecap="round" stroke-linejoin="round" opacity="0.85"/>
</g><g filter="url(#b1)">
<path d="M157.7 83.5 C158.2 82.4 159.4 78.1 160.7 76.5 C161.9 74.9 164.3 74.3 165 73.9" fill="none" stroke="#d3e3de" stroke-width="3.9" stroke-linecap="round" stroke-linejoin="round"/>
<path d="M167.7 91.4 C168.4 92.5 169.6 95.7 172 97.9 C174.5 100.1 179.1 102.4 182.6 104.6 C186.1 106.7 189.9 109 193.1 110.7 C196.3 112.4 198.6 113.3 201.8 114.7 C205 116.2 210.6 118.7 212.3 119.4" fill="none" stroke="#e6eef0" stroke-width="5.8" stroke-linecap="round" stroke-linejoin="round"/>
<path d="M212.3 119.4 C212.9 120.5 215 123.2 215.8 125.6 C216.7 128 217 132.6 217.2 134" fill="none" stroke="#dfe7e2" stroke-width="4.2" stroke-linecap="round" stroke-linejoin="round"/>
<path d="M205.3 122.1 C205.8 123.2 207.2 127.1 208 129.1 C208.7 131.1 209.4 133.2 209.7 134" fill="none" stroke="#d3dbd6" stroke-width="3.2" stroke-linecap="round" stroke-linejoin="round"/>
<path d="M175.2 78.3 C175.7 78.6 177.7 80 178.2 80.4" fill="none" stroke="#d6e6ec" stroke-width="2.1" stroke-linecap="round" stroke-linejoin="round"/>
<path d="M149.6 110.2 C149 111.9 146.9 116.5 145.8 120.3 C144.6 124.1 143.1 130.8 142.6 132.9" fill="none" stroke="#b9cac2" stroke-width="3.5" stroke-linecap="round" stroke-linejoin="round"/>
<path d="M196.6 119.4 C195.1 119.9 190.1 120.2 187.8 122.1 C185.5 124 183.4 129.4 182.6 130.8" fill="none" stroke="#c3cfd6" stroke-width="1.8" stroke-linecap="round" stroke-linejoin="round"/>
<path d="M210.2 134 C211.2 135.5 214 139.7 215.8 142.8 C217.7 145.8 219.6 148.3 221.5 152.4 C223.3 156.5 226.1 163.5 227.2 167.3 C228.3 171.1 228.4 172 228.1 175.2 C227.8 178.4 226.1 183.5 225.5 186.6 C224.9 189.6 224.8 192.4 224.6 193.6" fill="none" stroke="#d0d0c2" stroke-width="6" stroke-linecap="round" stroke-linejoin="round"/>
<path d="M227.2 163.8 C227.5 165.5 228.7 172.5 229 174.3" fill="none" stroke="#c4c3b2" stroke-width="7" stroke-linecap="round" stroke-linejoin="round"/>
<path d="M184.7 139.3 C184.7 142.5 184.8 152.7 185 158.5 C185.2 164.4 185.6 171.7 185.7 174.3" fill="none" stroke="#c9cdc6" stroke-width="3.9" stroke-linecap="round" stroke-linejoin="round"/>
<path d="M186.4 184.8 C186.8 186.8 188.3 193.1 188.5 197.1 C188.7 201 187.9 206.6 187.8 208.5" fill="none" stroke="#d5dcd6" stroke-width="6.3" stroke-linecap="round" stroke-linejoin="round"/>
<path d="M180.8 134 C180 136 176 141.6 175.9 146.3 C175.8 150.9 178.2 157.7 179.9 162 C181.6 166.4 184.2 169.2 186.1 172.5 C188 175.9 190.4 180.6 191.3 182.2" fill="none" stroke="#d3dfe6" stroke-width="1.9" stroke-linecap="round" stroke-linejoin="round"/>
<path d="M138.8 136.6 C138.7 138.1 138.3 143.9 138.2 145.4" fill="none" stroke="#dfe8e0" stroke-width="4.6" stroke-linecap="round" stroke-linejoin="round"/>
<path d="M141.6 134 C141.4 134.4 140.7 136.2 140.5 136.6" fill="none" stroke="#d6e0d6" stroke-width="3.2" stroke-linecap="round" stroke-linejoin="round"/>
<path d="M203.6 155.9 C204.5 156.3 208 158.1 208.8 158.5" fill="none" stroke="#cfdde4" stroke-width="2.5" stroke-linecap="round" stroke-linejoin="round"/>
</g>
</g>
<clipPath id="blob3"><polygon points="255.3,55.2 269.8,55.2 273.4,58.4 277.8,55.2 329.3,55.2 327.6,59.8 323.5,67.8 327.2,73.6 332,78.7 332,117.9 329.6,126.6 327.6,133.6 268.3,133.6 265.4,123.7 262.5,112.1 258.2,101.9 252.4,91.8 249.2,87.4 249.2,83.1 249.7,75.8 251.6,65.6"/></clipPath>
<g clip-path="url(#c3)">
<rect x="249" y="55" width="83.2" height="81" fill="#fdfaf5"/>
<polygon points="255.3,55.2 269.8,55.2 273.4,58.4 277.8,55.2 329.3,55.2 327.6,59.8 323.5,67.8 327.2,73.6 332,78.7 332,117.9 329.6,126.6 327.6,133.6 268.3,133.6 265.4,123.7 262.5,112.1 258.2,101.9 252.4,91.8 249.2,87.4 249.2,83.1 249.7,75.8 251.6,65.6" fill="#c9a77c" filter="url(#b2)" opacity="0.55"/>
<g clip-path="url(#blob3)">
<polygon points="255.3,55.2 269.8,55.2 273.4,58.4 277.8,55.2 329.3,55.2 327.6,59.8 323.5,67.8 327.2,73.6 332,78.7 332,117.9 329.6,126.6 327.6,133.6 268.3,133.6 265.4,123.7 262.5,112.1 258.2,101.9 252.4,91.8 249.2,87.4 249.2,83.1 249.7,75.8 251.6,65.6" fill="#7f7361"/>
<g filter="url(#b2)">
<ellipse cx="294.5" cy="73.6" rx="15.3" ry="10.2" fill="#958a75"/>
<ellipse cx="304.7" cy="101.9" rx="13.8" ry="13.8" fill="#918570"/>
<ellipse cx="284.3" cy="94.7" rx="13.1" ry="23.2" fill="#827868"/>
<ellipse cx="262.5" cy="84.5" rx="18.2" ry="35.6" fill="#473a2d"/>
<ellipse cx="252.4" cy="77.2" rx="5.8" ry="23.2" fill="#2e241b"/>
<ellipse cx="314.8" cy="59.8" rx="18.9" ry="8" fill="#2f2318"/>
<ellipse cx="291.6" cy="55.7" rx="42.1" ry="2.9" fill="#3a2c20"/>
<ellipse cx="297.4" cy="133.2" rx="33.4" ry="3.2" fill="#5a4632"/>
<ellipse cx="265.4" cy="61.3" rx="13.1" ry="7.3" fill="#463a2d"/>
<ellipse cx="327.2" cy="106.3" rx="8" ry="32" fill="#7d5f42"/>
<ellipse cx="323.5" cy="75.8" rx="5.8" ry="8.7" fill="#4a3a2a"/>
<ellipse cx="306.1" cy="131.7" rx="24.7" ry="4.4" fill="#6a5640"/>
<ellipse cx="272.7" cy="129.5" rx="8.7" ry="5.8" fill="#41362b"/>
<ellipse cx="261.1" cy="101.9" rx="5.8" ry="8.7" fill="#3d3227"/>
<ellipse cx="278.5" cy="112.1" rx="6.5" ry="11.6" fill="#91877a" opacity="0.7"/>
</g><g filter="url(#b1)">
<ellipse cx="274.9" cy="68.5" rx="7.3" ry="7" fill="#483e33" opacity="0.95"/>
<ellipse cx="293.8" cy="74.3" rx="5.5" ry="6.1" fill="#645c4f" opacity="0.9"/>
<ellipse cx="282.9" cy="86.2" rx="5.5" ry="5.2" fill="#5c5448" opacity="0.95"/>
<ellipse cx="282.9" cy="101.9" rx="6.1" ry="5.8" fill="#676053" opacity="0.9"/>
<ellipse cx="290.9" cy="115" rx="4.4" ry="4.9" fill="#585045" opacity="0.95"/>
<ellipse cx="281.4" cy="123.4" rx="6.7" ry="5.8" fill="#777062" opacity="0.85"/>
<ellipse cx="298.8" cy="119.7" rx="5.5" ry="5.2" fill="#686052" opacity="0.9"/>
<ellipse cx="315.5" cy="88.1" rx="8" ry="7.6" fill="#85796a" opacity="0.75"/>
<ellipse cx="306.1" cy="70" rx="5.8" ry="6.1" fill="#70665a" opacity="0.7"/>
<ellipse cx="259.6" cy="81.6" rx="6.7" ry="7.6" fill="#33291f" opacity="0.9"/>
<ellipse cx="263.3" cy="100.8" rx="4.9" ry="5.8" fill="#41362b" opacity="0.9"/>
<ellipse cx="298.1" cy="131" rx="4.6" ry="3.5" fill="#5f5649" opacity="0.9"/>
<ellipse cx="318" cy="111.4" rx="5.8" ry="3.3" fill="#48200f"/>
<ellipse cx="316.3" cy="123.1" rx="2.9" ry="4.6" fill="#4e2314"/>
<ellipse cx="310.2" cy="104.6" rx="1.7" ry="1.7" fill="#1d120c"/>
<ellipse cx="327.6" cy="111.8" rx="1.7" ry="1.2" fill="#4a2a1c"/>
</g>
<rect x="249" y="55" width="83.2" height="81" filter="url(#soil)" opacity="0.14"/>
</g>
<polygon points="255.3,55.2 269.8,55.2 273.4,58.4 277.8,55.2 329.3,55.2 327.6,59.8 323.5,67.8 327.2,73.6 332,78.7 332,117.9 329.6,126.6 327.6,133.6 268.3,133.6 265.4,123.7 262.5,112.1 258.2,101.9 252.4,91.8 249.2,87.4 249.2,83.1 249.7,75.8 251.6,65.6" fill="none" stroke="#3a2a1c" stroke-width="1.6" filter="url(#b1)" opacity="0.7"/>
</g>
<g clip-path="url(#c4)">
<rect x="249" y="138" width="83.2" height="75.5" fill="#aea48e"/>
<g filter="url(#b3)">
<ellipse cx="298.8" cy="174.7" rx="11.6" ry="39.2" fill="#c9c2b3" opacity="0.85"/>
<ellipse cx="291.6" cy="151.4" rx="16" ry="11.6" fill="#c3bba9" opacity="0.8"/>
<ellipse cx="322.1" cy="180.5" rx="10.9" ry="33.4" fill="#a59a8c" opacity="0.9"/>
<ellipse cx="258.2" cy="181.9" rx="6.5" ry="24.7" fill="#a0957d" opacity="0.9"/>
<ellipse cx="252.4" cy="177.6" rx="4.4" ry="24.7" fill="#8a8376" opacity="0.8"/>
<ellipse cx="291.6" cy="211" rx="40.7" ry="4.4" fill="#a4967a" opacity="0.9"/>
<ellipse cx="252.1" cy="175" rx="2.3" ry="5.2" fill="#2f3040" opacity="0.9"/>
<ellipse cx="332" cy="174.7" rx="1.7" ry="7.3" fill="#3a3440" opacity="0.9"/>
</g><g filter="url(#b1)">
<ellipse cx="265.7" cy="148.2" rx="5.8" ry="5.5" fill="#4d434b" opacity="0.9"/>
<ellipse cx="275.6" cy="149.4" rx="4.5" ry="4.2" fill="#9c927f" opacity="0.7"/>
<ellipse cx="276.5" cy="169.2" rx="4.6" ry="4.4" fill="#9c8b6e" opacity="0.85"/>
<ellipse cx="265.4" cy="176.1" rx="5.4" ry="5.1" fill="#968d7c" opacity="0.7"/>
<ellipse cx="266.9" cy="188.9" rx="6.4" ry="6" fill="#3f3848" opacity="0.95"/>
<ellipse cx="270.1" cy="205.5" rx="6.8" ry="6.4" fill="#2f2a3a" opacity="0.97"/>
<ellipse cx="282.3" cy="204" rx="5.1" ry="4.8" fill="#3a3444" opacity="0.92"/>
<ellipse cx="266.6" cy="147.7" rx="4.1" ry="3.7" fill="#bebbb6"/>
<ellipse cx="275.6" cy="149.1" rx="3.3" ry="3.1" fill="#c2beb4"/>
<ellipse cx="276.5" cy="169.2" rx="2.9" ry="2.7" fill="#c4bba6"/>
<ellipse cx="265.4" cy="176.1" rx="4.1" ry="3.7" fill="#c1beb8"/>
<ellipse cx="265.7" cy="188.3" rx="4.4" ry="4" fill="#c3c0bc"/>
<ellipse cx="269.5" cy="205.2" rx="4.5" ry="4.1" fill="#c5c2bf"/>
<ellipse cx="282.3" cy="204" rx="2.9" ry="2.7" fill="#b7ad98"/>
<ellipse cx="329.5" cy="161" rx="1.9" ry="4.1" fill="#2a2638"/>
<ellipse cx="327.3" cy="173.2" rx="4.1" ry="4.1" fill="#7d7078"/>
<ellipse cx="327.3" cy="194.4" rx="4.1" ry="5.8" fill="#b9aba9"/>
<ellipse cx="309.9" cy="163.9" rx="2.5" ry="4.1" fill="#9b8b89"/>
<ellipse cx="316.3" cy="181.9" rx="4.1" ry="3.5" fill="#a69a8c" opacity="0.7"/>
<ellipse cx="275.6" cy="148.5" rx="0.9" ry="0.7" fill="#f7f7f5"/>
<ellipse cx="275.3" cy="168.9" rx="1.2" ry="0.9" fill="#f7f7f5"/>
<ellipse cx="275.9" cy="177.3" rx="1.3" ry="1" fill="#f7f7f5"/>
<ellipse cx="279.1" cy="203.7" rx="1.2" ry="0.9" fill="#f7f7f5"/>
<ellipse cx="319.5" cy="179.3" rx="1.2" ry="0.9" fill="#f7f7f5"/>
<ellipse cx="286.1" cy="157.2" rx="0.7" ry="0.6" fill="#f7f7f5"/>
<ellipse cx="291" cy="192.1" rx="0.7" ry="0.6" fill="#f7f7f5"/>
<ellipse cx="273.9" cy="188" rx="0.7" ry="0.6" fill="#f7f7f5"/>
<polygon points="320.3,138.1 332,138.1 332,148.8 329.3,144.5 325,140.7" fill="#14142a"/>
<polygon points="329.3,148.8 332,147.9 332,161.9 330.5,156.1" fill="#f4f4f8"/>
<path d="M249.2 191.4 L255.3 200.1 L260.8 213.3" fill="none" stroke="#3b3a4c" stroke-width="2.3" stroke-linecap="round" stroke-linejoin="round" opacity="0.8"/>
<polygon points="249.2,192.1 255,200.5 260.2,213.3 249.2,213.3" fill="#f8f6f3"/>
<polygon points="332,206.6 332,213.3 327.9,213.3" fill="#eeeae2"/>
</g>
<rect x="249" y="138" width="83.2" height="75.5" filter="url(#soilL)" opacity="0.22"/>
</g>
<g font-weight="bold" font-size="21.5" fill="#000">
<text x="0" y="13.3" font-size="20">a</text>
<text x="346.5" y="15.2">b</text>
<text x="0.3" y="306.1">c</text>
<text x="343.3" y="306.1" font-size="20.7">d</text>
</g>
<path d="M411.95 21.5H684V256.2" fill="none" stroke="#222" stroke-width="1"/>
<rect x="420.4" y="111.11" width="22.4" height="145.09" fill="#C4AED6" stroke="#111" stroke-width="1"/>
<rect x="453.75" y="54.14" width="22.4" height="202.06" fill="#9467BD" stroke="#111" stroke-width="1"/>
<rect x="487.1" y="57.13" width="22.4" height="199.07" fill="#FDBB75" stroke="#111" stroke-width="1"/>
<rect x="520.45" y="59.48" width="22.4" height="196.72" fill="#EDA338" stroke="#111" stroke-width="1"/>
<rect x="553.8" y="152.08" width="22.4" height="104.12" fill="#98DF8A" stroke="#111" stroke-width="1"/>
<rect x="587.15" y="139.49" width="22.4" height="116.71" fill="#5CB85C" stroke="#111" stroke-width="1"/>
<rect x="620.5" y="167.65" width="22.4" height="88.55" fill="#9EDAE5" stroke="#111" stroke-width="1"/>
<rect x="653.85" y="136.72" width="22.4" height="119.48" fill="#42B4DA" stroke="#111" stroke-width="1"/>
<circle cx="430.65" cy="85.51" r="0.95" fill="#B9A3CC" stroke="#1a1a1a" stroke-width="0.55"/>
<circle cx="432.55" cy="85.51" r="0.95" fill="#B9A3CC" stroke="#1a1a1a" stroke-width="0.55"/>
<circle cx="430.65" cy="128.18" r="0.95" fill="#B9A3CC" stroke="#1a1a1a" stroke-width="0.55"/>
<circle cx="432.55" cy="128.18" r="0.95" fill="#B9A3CC" stroke="#1a1a1a" stroke-width="0.55"/>
<circle cx="462.1" cy="42.84" r="0.95" fill="#7B52A8" stroke="#1a1a1a" stroke-width="0.55"/>
<circle cx="464" cy="42.84" r="0.95" fill="#7B52A8" stroke="#1a1a1a" stroke-width="0.55"/>
<circle cx="465.9" cy="42.84" r="0.95" fill="#7B52A8" stroke="#1a1a1a" stroke-width="0.55"/>
<circle cx="467.8" cy="42.84" r="0.95" fill="#7B52A8" stroke="#1a1a1a" stroke-width="0.55"/>
<circle cx="462.1" cy="85.51" r="0.95" fill="#7B52A8" stroke="#1a1a1a" stroke-width="0.55"/>
<circle cx="464" cy="85.51" r="0.95" fill="#7B52A8" stroke="#1a1a1a" stroke-width="0.55"/>
<circle cx="465.9" cy="85.51" r="0.95" fill="#7B52A8" stroke="#1a1a1a" stroke-width="0.55"/>
<circle cx="467.8" cy="85.51" r="0.95" fill="#7B52A8" stroke="#1a1a1a" stroke-width="0.55"/>
<circle cx="464.95" cy="128.18" r="0.95" fill="#7B52A8" stroke="#1a1a1a" stroke-width="0.55"/>
<circle cx="496.4" cy="42.84" r="0.95" fill="#F0A860" stroke="#1a1a1a" stroke-width="0.55"/>
<circle cx="498.3" cy="42.84" r="0.95" fill="#F0A860" stroke="#1a1a1a" stroke-width="0.55"/>
<circle cx="500.2" cy="42.84" r="0.95" fill="#F0A860" stroke="#1a1a1a" stroke-width="0.55"/>
<circle cx="495.45" cy="85.51" r="0.95" fill="#F0A860" stroke="#1a1a1a" stroke-width="0.55"/>
<circle cx="497.35" cy="85.51" r="0.95" fill="#F0A860" stroke="#1a1a1a" stroke-width="0.55"/>
<circle cx="499.25" cy="85.51" r="0.95" fill="#F0A860" stroke="#1a1a1a" stroke-width="0.55"/>
<circle cx="501.15" cy="85.51" r="0.95" fill="#F0A860" stroke="#1a1a1a" stroke-width="0.55"/>
<circle cx="498.3" cy="128.18" r="0.95" fill="#F0A860" stroke="#1a1a1a" stroke-width="0.55"/>
<circle cx="528.8" cy="42.84" r="0.95" fill="#D98E28" stroke="#1a1a1a" stroke-width="0.55"/>
<circle cx="530.7" cy="42.84" r="0.95" fill="#D98E28" stroke="#1a1a1a" stroke-width="0.55"/>
<circle cx="532.6" cy="42.84" r="0.95" fill="#D98E28" stroke="#1a1a1a" stroke-width="0.55"/>
<circle cx="534.5" cy="42.84" r="0.95" fill="#D98E28" stroke="#1a1a1a" stroke-width="0.55"/>
<circle cx="527.85" cy="85.51" r="0.95" fill="#D98E28" stroke="#1a1a1a" stroke-width="0.55"/>
<circle cx="529.75" cy="85.51" r="0.95" fill="#D98E28" stroke="#1a1a1a" stroke-width="0.55"/>
<circle cx="531.65" cy="85.51" r="0.95" fill="#D98E28" stroke="#1a1a1a" stroke-width="0.55"/>
<circle cx="533.55" cy="85.51" r="0.95" fill="#D98E28" stroke="#1a1a1a" stroke-width="0.55"/>
<circle cx="535.45" cy="85.51" r="0.95" fill="#D98E28" stroke="#1a1a1a" stroke-width="0.55"/>
<circle cx="531.65" cy="128.18" r="0.95" fill="#D98E28" stroke="#1a1a1a" stroke-width="0.55"/>
<circle cx="562" cy="42.84" r="0.95" fill="#7FCB72" stroke="#1a1a1a" stroke-width="0.55"/>
<circle cx="567.5" cy="42.84" r="0.95" fill="#7FCB72" stroke="#1a1a1a" stroke-width="0.55"/>
<circle cx="562" cy="85.51" r="0.95" fill="#7FCB72" stroke="#1a1a1a" stroke-width="0.55"/>
<circle cx="567.5" cy="85.51" r="0.95" fill="#7FCB72" stroke="#1a1a1a" stroke-width="0.55"/>
<circle cx="562.15" cy="128.18" r="0.95" fill="#7FCB72" stroke="#1a1a1a" stroke-width="0.55"/>
<circle cx="564.05" cy="128.18" r="0.95" fill="#7FCB72" stroke="#1a1a1a" stroke-width="0.55"/>
<circle cx="565.95" cy="128.18" r="0.95" fill="#7FCB72" stroke="#1a1a1a" stroke-width="0.55"/>
<circle cx="567.85" cy="128.18" r="0.95" fill="#7FCB72" stroke="#1a1a1a" stroke-width="0.55"/>
<circle cx="562.15" cy="170.85" r="0.95" fill="#7FCB72" stroke="#1a1a1a" stroke-width="0.55"/>
<circle cx="564.05" cy="170.85" r="0.95" fill="#7FCB72" stroke="#1a1a1a" stroke-width="0.55"/>
<circle cx="565.95" cy="170.85" r="0.95" fill="#7FCB72" stroke="#1a1a1a" stroke-width="0.55"/>
<circle cx="567.85" cy="170.85" r="0.95" fill="#7FCB72" stroke="#1a1a1a" stroke-width="0.55"/>
<circle cx="562.15" cy="213.53" r="0.95" fill="#7FCB72" stroke="#1a1a1a" stroke-width="0.55"/>
<circle cx="564.05" cy="213.53" r="0.95" fill="#7FCB72" stroke="#1a1a1a" stroke-width="0.55"/>
<circle cx="565.95" cy="213.53" r="0.95" fill="#7FCB72" stroke="#1a1a1a" stroke-width="0.55"/>
<circle cx="567.85" cy="213.53" r="0.95" fill="#7FCB72" stroke="#1a1a1a" stroke-width="0.55"/>
<circle cx="598.35" cy="42.84" r="0.95" fill="#4AA34A" stroke="#1a1a1a" stroke-width="0.55"/>
<circle cx="596.45" cy="85.51" r="0.95" fill="#4AA34A" stroke="#1a1a1a" stroke-width="0.55"/>
<circle cx="598.35" cy="85.51" r="0.95" fill="#4AA34A" stroke="#1a1a1a" stroke-width="0.55"/>
<circle cx="600.25" cy="85.51" r="0.95" fill="#4AA34A" stroke="#1a1a1a" stroke-width="0.55"/>
<circle cx="595.5" cy="128.18" r="0.95" fill="#4AA34A" stroke="#1a1a1a" stroke-width="0.55"/>
<circle cx="597.4" cy="128.18" r="0.95" fill="#4AA34A" stroke="#1a1a1a" stroke-width="0.55"/>
<circle cx="599.3" cy="128.18" r="0.95" fill="#4AA34A" stroke="#1a1a1a" stroke-width="0.55"/>
<circle cx="601.2" cy="128.18" r="0.95" fill="#4AA34A" stroke="#1a1a1a" stroke-width="0.55"/>
<circle cx="595.5" cy="170.85" r="0.95" fill="#4AA34A" stroke="#1a1a1a" stroke-width="0.55"/>
<circle cx="597.4" cy="170.85" r="0.95" fill="#4AA34A" stroke="#1a1a1a" stroke-width="0.55"/>
<circle cx="599.3" cy="170.85" r="0.95" fill="#4AA34A" stroke="#1a1a1a" stroke-width="0.55"/>
<circle cx="601.2" cy="170.85" r="0.95" fill="#4AA34A" stroke="#1a1a1a" stroke-width="0.55"/>
<circle cx="597.4" cy="213.53" r="0.95" fill="#4AA34A" stroke="#1a1a1a" stroke-width="0.55"/>
<circle cx="599.3" cy="213.53" r="0.95" fill="#4AA34A" stroke="#1a1a1a" stroke-width="0.55"/>
<circle cx="630.75" cy="85.51" r="0.95" fill="#88C6D2" stroke="#1a1a1a" stroke-width="0.55"/>
<circle cx="632.65" cy="85.51" r="0.95" fill="#88C6D2" stroke="#1a1a1a" stroke-width="0.55"/>
<circle cx="629.8" cy="128.18" r="0.95" fill="#88C6D2" stroke="#1a1a1a" stroke-width="0.55"/>
<circle cx="631.7" cy="128.18" r="0.95" fill="#88C6D2" stroke="#1a1a1a" stroke-width="0.55"/>
<circle cx="633.6" cy="128.18" r="0.95" fill="#88C6D2" stroke="#1a1a1a" stroke-width="0.55"/>
<circle cx="628.85" cy="170.85" r="0.95" fill="#88C6D2" stroke="#1a1a1a" stroke-width="0.55"/>
<circle cx="630.75" cy="170.85" r="0.95" fill="#88C6D2" stroke="#1a1a1a" stroke-width="0.55"/>
<circle cx="632.65" cy="170.85" r="0.95" fill="#88C6D2" stroke="#1a1a1a" stroke-width="0.55"/>
<circle cx="634.55" cy="170.85" r="0.95" fill="#88C6D2" stroke="#1a1a1a" stroke-width="0.55"/>
<circle cx="629.8" cy="213.53" r="0.95" fill="#88C6D2" stroke="#1a1a1a" stroke-width="0.55"/>
<circle cx="631.7" cy="213.53" r="0.95" fill="#88C6D2" stroke="#1a1a1a" stroke-width="0.55"/>
<circle cx="633.6" cy="213.53" r="0.95" fill="#88C6D2" stroke="#1a1a1a" stroke-width="0.55"/>
<circle cx="664.1" cy="42.84" r="0.95" fill="#2F9CC4" stroke="#1a1a1a" stroke-width="0.55"/>
<circle cx="666" cy="42.84" r="0.95" fill="#2F9CC4" stroke="#1a1a1a" stroke-width="0.55"/>
<circle cx="662.2" cy="85.51" r="0.95" fill="#2F9CC4" stroke="#1a1a1a" stroke-width="0.55"/>
<circle cx="664.1" cy="85.51" r="0.95" fill="#2F9CC4" stroke="#1a1a1a" stroke-width="0.55"/>
<circle cx="666" cy="85.51" r="0.95" fill="#2F9CC4" stroke="#1a1a1a" stroke-width="0.55"/>
<circle cx="667.9" cy="85.51" r="0.95" fill="#2F9CC4" stroke="#1a1a1a" stroke-width="0.55"/>
<circle cx="664.1" cy="128.18" r="0.95" fill="#2F9CC4" stroke="#1a1a1a" stroke-width="0.55"/>
<circle cx="666" cy="128.18" r="0.95" fill="#2F9CC4" stroke="#1a1a1a" stroke-width="0.55"/>
<circle cx="662.2" cy="170.85" r="0.95" fill="#2F9CC4" stroke="#1a1a1a" stroke-width="0.55"/>
<circle cx="664.1" cy="170.85" r="0.95" fill="#2F9CC4" stroke="#1a1a1a" stroke-width="0.55"/>
<circle cx="666" cy="170.85" r="0.95" fill="#2F9CC4" stroke="#1a1a1a" stroke-width="0.55"/>
<circle cx="667.9" cy="170.85" r="0.95" fill="#2F9CC4" stroke="#1a1a1a" stroke-width="0.55"/>
<circle cx="662.55" cy="213.53" r="0.95" fill="#2F9CC4" stroke="#1a1a1a" stroke-width="0.55"/>
<path d="M431.6 103.86V118.37M427.85 103.86h7.5M427.85 118.37h7.5" fill="none" stroke="#111" stroke-width="1"/>
<path d="M464.95 50.09V58.63M461.2 50.09h7.5M461.2 58.63h7.5" fill="none" stroke="#111" stroke-width="1"/>
<path d="M498.3 52.86V61.61M494.55 52.86h7.5M494.55 61.61h7.5" fill="none" stroke="#111" stroke-width="1"/>
<path d="M531.65 54.78V64.39M527.9 54.78h7.5M527.9 64.39h7.5" fill="none" stroke="#111" stroke-width="1"/>
<path d="M565 142.48V161.68M561.25 142.48h7.5M561.25 161.68h7.5" fill="none" stroke="#111" stroke-width="1"/>
<path d="M598.35 131.38V147.81M594.6 131.38h7.5M594.6 147.81h7.5" fill="none" stroke="#111" stroke-width="1"/>
<path d="M631.7 160.19V175.55M627.95 160.19h7.5M627.95 175.55h7.5" fill="none" stroke="#111" stroke-width="1"/>
<path d="M665.05 126.47V146.96M661.3 126.47h7.5M661.3 146.96h7.5" fill="none" stroke="#111" stroke-width="1"/>
<path d="M411.95 21.05V256.2H684.5" fill="none" stroke="#000" stroke-width="1.85"/>
<path d="M406.05 256.2H411.95" stroke="#111" stroke-width="1.7"/>
<text x="402" y="261.2" text-anchor="end" font-size="14.3">0</text>
<path d="M406.05 202.86H411.95" stroke="#111" stroke-width="1.7"/>
<text x="402" y="207.86" text-anchor="end" font-size="14.3">25</text>
<path d="M406.05 149.52H411.95" stroke="#111" stroke-width="1.7"/>
<text x="402" y="154.52" text-anchor="end" font-size="14.3">50</text>
<path d="M406.05 96.18H411.95" stroke="#111" stroke-width="1.7"/>
<text x="402" y="101.18" text-anchor="end" font-size="14.3">75</text>
<path d="M406.05 42.84H411.95" stroke="#111" stroke-width="1.7"/>
<text x="402" y="47.84" text-anchor="end" font-size="14.3">100</text>
<path d="M431.6 256.2v5.6" stroke="#111" stroke-width="1.7"/>
<text x="431.6" y="275.5" text-anchor="middle" font-size="14.3">Y1</text>
<path d="M464.95 256.2v5.6" stroke="#111" stroke-width="1.7"/>
<text x="464.95" y="275.5" text-anchor="middle" font-size="14.3">Y2</text>
<path d="M498.3 256.2v5.6" stroke="#111" stroke-width="1.7"/>
<text x="498.3" y="275.5" text-anchor="middle" font-size="14.3">Y4</text>
<path d="M531.65 256.2v5.6" stroke="#111" stroke-width="1.7"/>
<text x="531.65" y="275.5" text-anchor="middle" font-size="14.3">Y5</text>
<path d="M565 256.2v5.6" stroke="#111" stroke-width="1.7"/>
<text x="565" y="275.5" text-anchor="middle" font-size="14.3">Y7</text>
<path d="M598.35 256.2v5.6" stroke="#111" stroke-width="1.7"/>
<text x="598.35" y="275.5" text-anchor="middle" font-size="14.3">Y8</text>
<path d="M631.7 256.2v5.6" stroke="#111" stroke-width="1.7"/>
<text x="631.7" y="275.5" text-anchor="middle" font-size="14.3">Y10</text>
<path d="M665.05 256.2v5.6" stroke="#111" stroke-width="1.7"/>
<text x="665.05" y="275.5" text-anchor="middle" font-size="14.3">Y11</text>
<text x="431.6" y="79.5" text-anchor="middle" font-size="14.3">b</text>
<text x="464.95" y="37.3" text-anchor="middle" font-size="14.3">a</text>
<text x="498.3" y="37.3" text-anchor="middle" font-size="14.3">a</text>
<text x="531.65" y="36.8" text-anchor="middle" font-size="14.3">a</text>
<text x="565" y="118.7" text-anchor="middle" font-size="14.3">cd</text>
<text x="598.35" y="110.3" text-anchor="middle" font-size="14.3">bc</text>
<text x="631.7" y="149.6" text-anchor="middle" font-size="14.3">d</text>
<text x="665.05" y="110.3" text-anchor="middle" font-size="14.3">bc</text>
<text transform="translate(369.3 139) rotate(-90)" text-anchor="middle" font-size="14.0">Disease incidence (%)</text>
<path d="M46.85 323.5H327.5V558.1" fill="none" stroke="#222" stroke-width="1"/>
<rect x="56.2" y="517.05" width="22.4" height="41.05" fill="#C4AED6" stroke="#111" stroke-width="1"/>
<rect x="90.44" y="440.8" width="22.4" height="117.3" fill="#9467BD" stroke="#111" stroke-width="1"/>
<rect x="124.68" y="453.41" width="22.4" height="104.69" fill="#FDBB75" stroke="#111" stroke-width="1"/>
<rect x="158.92" y="463.38" width="22.4" height="94.72" fill="#EDA338" stroke="#111" stroke-width="1"/>
<rect x="193.16" y="516.75" width="22.4" height="41.35" fill="#98DF8A" stroke="#111" stroke-width="1"/>
<rect x="227.4" y="513.53" width="22.4" height="44.57" fill="#5CB85C" stroke="#111" stroke-width="1"/>
<rect x="261.64" y="524.38" width="22.4" height="33.72" fill="#9EDAE5" stroke="#111" stroke-width="1"/>
<rect x="295.88" y="510.89" width="22.4" height="47.21" fill="#42B4DA" stroke="#111" stroke-width="1"/>
<circle cx="67.4" cy="499.45" r="1.05" fill="#B9A3CC" stroke="#1a1a1a" stroke-width="0.55"/>
<circle cx="67.4" cy="511.18" r="1.05" fill="#B9A3CC" stroke="#1a1a1a" stroke-width="0.55"/>
<circle cx="70.4" cy="511.18" r="1.05" fill="#B9A3CC" stroke="#1a1a1a" stroke-width="0.55"/>
<circle cx="62.9" cy="522.91" r="1.05" fill="#B9A3CC" stroke="#1a1a1a" stroke-width="0.55"/>
<circle cx="65.9" cy="522.91" r="1.05" fill="#B9A3CC" stroke="#1a1a1a" stroke-width="0.55"/>
<circle cx="68.9" cy="522.91" r="1.05" fill="#B9A3CC" stroke="#1a1a1a" stroke-width="0.55"/>
<circle cx="71.9" cy="522.91" r="1.05" fill="#B9A3CC" stroke="#1a1a1a" stroke-width="0.55"/>
<circle cx="101.64" cy="346.96" r="1.05" fill="#7B52A8" stroke="#1a1a1a" stroke-width="0.55"/>
<circle cx="101.64" cy="370.42" r="1.05" fill="#7B52A8" stroke="#1a1a1a" stroke-width="0.55"/>
<circle cx="100.14" cy="382.15" r="1.05" fill="#7B52A8" stroke="#1a1a1a" stroke-width="0.55"/>
<circle cx="103.14" cy="382.15" r="1.05" fill="#7B52A8" stroke="#1a1a1a" stroke-width="0.55"/>
<circle cx="101.64" cy="405.61" r="1.05" fill="#7B52A8" stroke="#1a1a1a" stroke-width="0.55"/>
<circle cx="100.14" cy="429.07" r="1.05" fill="#7B52A8" stroke="#1a1a1a" stroke-width="0.55"/>
<circle cx="103.14" cy="429.07" r="1.05" fill="#7B52A8" stroke="#1a1a1a" stroke-width="0.55"/>
<circle cx="101.14" cy="440.8" r="1.05" fill="#7B52A8" stroke="#1a1a1a" stroke-width="0.55"/>
<circle cx="104.14" cy="440.8" r="1.05" fill="#7B52A8" stroke="#1a1a1a" stroke-width="0.55"/>
<circle cx="98.64" cy="452.53" r="1.05" fill="#7B52A8" stroke="#1a1a1a" stroke-width="0.55"/>
<circle cx="101.64" cy="452.53" r="1.05" fill="#7B52A8" stroke="#1a1a1a" stroke-width="0.55"/>
<circle cx="98.64" cy="464.26" r="1.05" fill="#7B52A8" stroke="#1a1a1a" stroke-width="0.55"/>
<circle cx="101.64" cy="464.26" r="1.05" fill="#7B52A8" stroke="#1a1a1a" stroke-width="0.55"/>
<circle cx="98.64" cy="475.99" r="1.05" fill="#7B52A8" stroke="#1a1a1a" stroke-width="0.55"/>
<circle cx="101.64" cy="475.99" r="1.05" fill="#7B52A8" stroke="#1a1a1a" stroke-width="0.55"/>
<circle cx="104.64" cy="475.99" r="1.05" fill="#7B52A8" stroke="#1a1a1a" stroke-width="0.55"/>
<circle cx="101.64" cy="487.72" r="1.05" fill="#7B52A8" stroke="#1a1a1a" stroke-width="0.55"/>
<circle cx="98.64" cy="499.45" r="1.05" fill="#7B52A8" stroke="#1a1a1a" stroke-width="0.55"/>
<circle cx="104.64" cy="511.18" r="1.05" fill="#7B52A8" stroke="#1a1a1a" stroke-width="0.55"/>
<circle cx="101.64" cy="522.91" r="1.05" fill="#7B52A8" stroke="#1a1a1a" stroke-width="0.55"/>
<circle cx="134.38" cy="382.15" r="1.05" fill="#F0A860" stroke="#1a1a1a" stroke-width="0.55"/>
<circle cx="134.38" cy="393.88" r="1.05" fill="#F0A860" stroke="#1a1a1a" stroke-width="0.55"/>
<circle cx="137.38" cy="393.88" r="1.05" fill="#F0A860" stroke="#1a1a1a" stroke-width="0.55"/>
<circle cx="133.38" cy="405.61" r="1.05" fill="#F0A860" stroke="#1a1a1a" stroke-width="0.55"/>
<circle cx="136.38" cy="405.61" r="1.05" fill="#F0A860" stroke="#1a1a1a" stroke-width="0.55"/>
<circle cx="134.38" cy="429.07" r="1.05" fill="#F0A860" stroke="#1a1a1a" stroke-width="0.55"/>
<circle cx="137.38" cy="429.07" r="1.05" fill="#F0A860" stroke="#1a1a1a" stroke-width="0.55"/>
<circle cx="134.38" cy="440.8" r="1.05" fill="#F0A860" stroke="#1a1a1a" stroke-width="0.55"/>
<circle cx="137.38" cy="440.8" r="1.05" fill="#F0A860" stroke="#1a1a1a" stroke-width="0.55"/>
<circle cx="135.38" cy="452.53" r="1.05" fill="#F0A860" stroke="#1a1a1a" stroke-width="0.55"/>
<circle cx="138.38" cy="452.53" r="1.05" fill="#F0A860" stroke="#1a1a1a" stroke-width="0.55"/>
<circle cx="133.88" cy="464.26" r="1.05" fill="#F0A860" stroke="#1a1a1a" stroke-width="0.55"/>
<circle cx="136.88" cy="464.26" r="1.05" fill="#F0A860" stroke="#1a1a1a" stroke-width="0.55"/>
<circle cx="139.88" cy="464.26" r="1.05" fill="#F0A860" stroke="#1a1a1a" stroke-width="0.55"/>
<circle cx="134.38" cy="475.99" r="1.05" fill="#F0A860" stroke="#1a1a1a" stroke-width="0.55"/>
<circle cx="137.38" cy="475.99" r="1.05" fill="#F0A860" stroke="#1a1a1a" stroke-width="0.55"/>
<circle cx="132.88" cy="487.72" r="1.05" fill="#F0A860" stroke="#1a1a1a" stroke-width="0.55"/>
<circle cx="135.88" cy="487.72" r="1.05" fill="#F0A860" stroke="#1a1a1a" stroke-width="0.55"/>
<circle cx="138.88" cy="487.72" r="1.05" fill="#F0A860" stroke="#1a1a1a" stroke-width="0.55"/>
<circle cx="134.38" cy="499.45" r="1.05" fill="#F0A860" stroke="#1a1a1a" stroke-width="0.55"/>
<circle cx="137.38" cy="499.45" r="1.05" fill="#F0A860" stroke="#1a1a1a" stroke-width="0.55"/>
<circle cx="132.88" cy="511.18" r="1.05" fill="#F0A860" stroke="#1a1a1a" stroke-width="0.55"/>
<circle cx="135.88" cy="511.18" r="1.05" fill="#F0A860" stroke="#1a1a1a" stroke-width="0.55"/>
<circle cx="138.88" cy="511.18" r="1.05" fill="#F0A860" stroke="#1a1a1a" stroke-width="0.55"/>
<circle cx="166.62" cy="382.15" r="1.05" fill="#D98E28" stroke="#1a1a1a" stroke-width="0.55"/>
<circle cx="169.62" cy="382.15" r="1.05" fill="#D98E28" stroke="#1a1a1a" stroke-width="0.55"/>
<circle cx="172.12" cy="393.88" r="1.05" fill="#D98E28" stroke="#1a1a1a" stroke-width="0.55"/>
<circle cx="166.12" cy="429.07" r="1.05" fill="#D98E28" stroke="#1a1a1a" stroke-width="0.55"/>
<circle cx="169.12" cy="429.07" r="1.05" fill="#D98E28" stroke="#1a1a1a" stroke-width="0.55"/>
<circle cx="172.12" cy="429.07" r="1.05" fill="#D98E28" stroke="#1a1a1a" stroke-width="0.55"/>
<circle cx="172.12" cy="440.8" r="1.05" fill="#D98E28" stroke="#1a1a1a" stroke-width="0.55"/>
<circle cx="170.12" cy="452.53" r="1.05" fill="#D98E28" stroke="#1a1a1a" stroke-width="0.55"/>
<circle cx="168.62" cy="464.26" r="1.05" fill="#D98E28" stroke="#1a1a1a" stroke-width="0.55"/>
<circle cx="171.62" cy="464.26" r="1.05" fill="#D98E28" stroke="#1a1a1a" stroke-width="0.55"/>
<circle cx="167.12" cy="475.99" r="1.05" fill="#D98E28" stroke="#1a1a1a" stroke-width="0.55"/>
<circle cx="170.12" cy="475.99" r="1.05" fill="#D98E28" stroke="#1a1a1a" stroke-width="0.55"/>
<circle cx="173.12" cy="475.99" r="1.05" fill="#D98E28" stroke="#1a1a1a" stroke-width="0.55"/>
<circle cx="167.12" cy="487.72" r="1.05" fill="#D98E28" stroke="#1a1a1a" stroke-width="0.55"/>
<circle cx="170.12" cy="487.72" r="1.05" fill="#D98E28" stroke="#1a1a1a" stroke-width="0.55"/>
<circle cx="173.12" cy="487.72" r="1.05" fill="#D98E28" stroke="#1a1a1a" stroke-width="0.55"/>
<circle cx="165.62" cy="499.45" r="1.05" fill="#D98E28" stroke="#1a1a1a" stroke-width="0.55"/>
<circle cx="168.62" cy="499.45" r="1.05" fill="#D98E28" stroke="#1a1a1a" stroke-width="0.55"/>
<circle cx="171.62" cy="499.45" r="1.05" fill="#D98E28" stroke="#1a1a1a" stroke-width="0.55"/>
<circle cx="174.62" cy="499.45" r="1.05" fill="#D98E28" stroke="#1a1a1a" stroke-width="0.55"/>
<circle cx="170.62" cy="511.18" r="1.05" fill="#D98E28" stroke="#1a1a1a" stroke-width="0.55"/>
<circle cx="173.62" cy="511.18" r="1.05" fill="#D98E28" stroke="#1a1a1a" stroke-width="0.55"/>
<circle cx="204.36" cy="452.53" r="1.05" fill="#7FCB72" stroke="#1a1a1a" stroke-width="0.55"/>
<circle cx="204.36" cy="464.26" r="1.05" fill="#7FCB72" stroke="#1a1a1a" stroke-width="0.55"/>
<circle cx="203.86" cy="475.99" r="1.05" fill="#7FCB72" stroke="#1a1a1a" stroke-width="0.55"/>
<circle cx="206.86" cy="475.99" r="1.05" fill="#7FCB72" stroke="#1a1a1a" stroke-width="0.55"/>
<circle cx="206.36" cy="487.72" r="1.05" fill="#7FCB72" stroke="#1a1a1a" stroke-width="0.55"/>
<circle cx="202.86" cy="499.45" r="1.05" fill="#7FCB72" stroke="#1a1a1a" stroke-width="0.55"/>
<circle cx="205.86" cy="499.45" r="1.05" fill="#7FCB72" stroke="#1a1a1a" stroke-width="0.55"/>
<circle cx="203.86" cy="511.18" r="1.05" fill="#7FCB72" stroke="#1a1a1a" stroke-width="0.55"/>
<circle cx="206.86" cy="511.18" r="1.05" fill="#7FCB72" stroke="#1a1a1a" stroke-width="0.55"/>
<circle cx="202.86" cy="522.91" r="1.05" fill="#7FCB72" stroke="#1a1a1a" stroke-width="0.55"/>
<circle cx="205.86" cy="522.91" r="1.05" fill="#7FCB72" stroke="#1a1a1a" stroke-width="0.55"/>
<circle cx="201.36" cy="534.64" r="1.05" fill="#7FCB72" stroke="#1a1a1a" stroke-width="0.55"/>
<circle cx="204.36" cy="534.64" r="1.05" fill="#7FCB72" stroke="#1a1a1a" stroke-width="0.55"/>
<circle cx="207.36" cy="534.64" r="1.05" fill="#7FCB72" stroke="#1a1a1a" stroke-width="0.55"/>
<circle cx="201.36" cy="546.37" r="1.05" fill="#7FCB72" stroke="#1a1a1a" stroke-width="0.55"/>
<circle cx="204.36" cy="546.37" r="1.05" fill="#7FCB72" stroke="#1a1a1a" stroke-width="0.55"/>
<circle cx="207.36" cy="546.37" r="1.05" fill="#7FCB72" stroke="#1a1a1a" stroke-width="0.55"/>
<circle cx="240.6" cy="417.34" r="1.05" fill="#4AA34A" stroke="#1a1a1a" stroke-width="0.55"/>
<circle cx="240.6" cy="464.26" r="1.05" fill="#4AA34A" stroke="#1a1a1a" stroke-width="0.55"/>
<circle cx="237.1" cy="475.99" r="1.05" fill="#4AA34A" stroke="#1a1a1a" stroke-width="0.55"/>
<circle cx="240.1" cy="475.99" r="1.05" fill="#4AA34A" stroke="#1a1a1a" stroke-width="0.55"/>
<circle cx="237.6" cy="499.45" r="1.05" fill="#4AA34A" stroke="#1a1a1a" stroke-width="0.55"/>
<circle cx="238.6" cy="511.18" r="1.05" fill="#4AA34A" stroke="#1a1a1a" stroke-width="0.55"/>
<circle cx="235.6" cy="522.91" r="1.05" fill="#4AA34A" stroke="#1a1a1a" stroke-width="0.55"/>
<circle cx="238.6" cy="522.91" r="1.05" fill="#4AA34A" stroke="#1a1a1a" stroke-width="0.55"/>
<circle cx="241.6" cy="522.91" r="1.05" fill="#4AA34A" stroke="#1a1a1a" stroke-width="0.55"/>
<circle cx="236.6" cy="534.64" r="1.05" fill="#4AA34A" stroke="#1a1a1a" stroke-width="0.55"/>
<circle cx="239.6" cy="534.64" r="1.05" fill="#4AA34A" stroke="#1a1a1a" stroke-width="0.55"/>
<circle cx="242.6" cy="534.64" r="1.05" fill="#4AA34A" stroke="#1a1a1a" stroke-width="0.55"/>
<circle cx="238.1" cy="546.37" r="1.05" fill="#4AA34A" stroke="#1a1a1a" stroke-width="0.55"/>
<circle cx="241.1" cy="546.37" r="1.05" fill="#4AA34A" stroke="#1a1a1a" stroke-width="0.55"/>
<circle cx="274.84" cy="429.07" r="1.05" fill="#88C6D2" stroke="#1a1a1a" stroke-width="0.55"/>
<circle cx="274.84" cy="440.8" r="1.05" fill="#88C6D2" stroke="#1a1a1a" stroke-width="0.55"/>
<circle cx="272.84" cy="499.45" r="1.05" fill="#88C6D2" stroke="#1a1a1a" stroke-width="0.55"/>
<circle cx="271.34" cy="511.18" r="1.05" fill="#88C6D2" stroke="#1a1a1a" stroke-width="0.55"/>
<circle cx="274.34" cy="511.18" r="1.05" fill="#88C6D2" stroke="#1a1a1a" stroke-width="0.55"/>
<circle cx="268.34" cy="522.91" r="1.05" fill="#88C6D2" stroke="#1a1a1a" stroke-width="0.55"/>
<circle cx="271.34" cy="522.91" r="1.05" fill="#88C6D2" stroke="#1a1a1a" stroke-width="0.55"/>
<circle cx="274.34" cy="522.91" r="1.05" fill="#88C6D2" stroke="#1a1a1a" stroke-width="0.55"/>
<circle cx="277.34" cy="522.91" r="1.05" fill="#88C6D2" stroke="#1a1a1a" stroke-width="0.55"/>
<circle cx="269.84" cy="534.64" r="1.05" fill="#88C6D2" stroke="#1a1a1a" stroke-width="0.55"/>
<circle cx="272.84" cy="534.64" r="1.05" fill="#88C6D2" stroke="#1a1a1a" stroke-width="0.55"/>
<circle cx="275.84" cy="534.64" r="1.05" fill="#88C6D2" stroke="#1a1a1a" stroke-width="0.55"/>
<circle cx="272.34" cy="546.37" r="1.05" fill="#88C6D2" stroke="#1a1a1a" stroke-width="0.55"/>
<circle cx="275.34" cy="546.37" r="1.05" fill="#88C6D2" stroke="#1a1a1a" stroke-width="0.55"/>
<circle cx="304.58" cy="452.53" r="1.05" fill="#2F9CC4" stroke="#1a1a1a" stroke-width="0.55"/>
<circle cx="307.58" cy="452.53" r="1.05" fill="#2F9CC4" stroke="#1a1a1a" stroke-width="0.55"/>
<circle cx="310.08" cy="464.26" r="1.05" fill="#2F9CC4" stroke="#1a1a1a" stroke-width="0.55"/>
<circle cx="309.08" cy="475.99" r="1.05" fill="#2F9CC4" stroke="#1a1a1a" stroke-width="0.55"/>
<circle cx="304.08" cy="487.72" r="1.05" fill="#2F9CC4" stroke="#1a1a1a" stroke-width="0.55"/>
<circle cx="307.08" cy="487.72" r="1.05" fill="#2F9CC4" stroke="#1a1a1a" stroke-width="0.55"/>
<circle cx="310.08" cy="487.72" r="1.05" fill="#2F9CC4" stroke="#1a1a1a" stroke-width="0.55"/>
<circle cx="305.58" cy="499.45" r="1.05" fill="#2F9CC4" stroke="#1a1a1a" stroke-width="0.55"/>
<circle cx="308.58" cy="499.45" r="1.05" fill="#2F9CC4" stroke="#1a1a1a" stroke-width="0.55"/>
<circle cx="305.58" cy="511.18" r="1.05" fill="#2F9CC4" stroke="#1a1a1a" stroke-width="0.55"/>
<circle cx="308.58" cy="511.18" r="1.05" fill="#2F9CC4" stroke="#1a1a1a" stroke-width="0.55"/>
<circle cx="304.08" cy="522.91" r="1.05" fill="#2F9CC4" stroke="#1a1a1a" stroke-width="0.55"/>
<circle cx="307.08" cy="522.91" r="1.05" fill="#2F9CC4" stroke="#1a1a1a" stroke-width="0.55"/>
<circle cx="310.08" cy="522.91" r="1.05" fill="#2F9CC4" stroke="#1a1a1a" stroke-width="0.55"/>
<circle cx="304.08" cy="534.64" r="1.05" fill="#2F9CC4" stroke="#1a1a1a" stroke-width="0.55"/>
<circle cx="307.08" cy="534.64" r="1.05" fill="#2F9CC4" stroke="#1a1a1a" stroke-width="0.55"/>
<circle cx="310.08" cy="534.64" r="1.05" fill="#2F9CC4" stroke="#1a1a1a" stroke-width="0.55"/>
<circle cx="305.58" cy="546.37" r="1.05" fill="#2F9CC4" stroke="#1a1a1a" stroke-width="0.55"/>
<circle cx="308.58" cy="546.37" r="1.05" fill="#2F9CC4" stroke="#1a1a1a" stroke-width="0.55"/>
<path d="M67.4 508.54V525.26M64.4 508.54h6M64.4 525.26h6" fill="none" stroke="#111" stroke-width="1"/>
<path d="M101.64 392.41V488.89M98.64 392.41h6M98.64 488.89h6" fill="none" stroke="#111" stroke-width="1"/>
<path d="M135.88 416.75V490.95M132.88 416.75h6M132.88 490.95h6" fill="none" stroke="#111" stroke-width="1"/>
<path d="M170.12 427.31V499.16M167.12 427.31h6M167.12 499.16h6" fill="none" stroke="#111" stroke-width="1"/>
<path d="M204.36 489.19V544.32M201.36 489.19h6M201.36 544.32h6" fill="none" stroke="#111" stroke-width="1"/>
<path d="M238.6 483.61V543.73M235.6 483.61h6M235.6 543.73h6" fill="none" stroke="#111" stroke-width="1"/>
<path d="M272.84 495.34V552.82M269.84 495.34h6M269.84 552.82h6" fill="none" stroke="#111" stroke-width="1"/>
<path d="M307.08 481.56V540.8M304.08 481.56h6M304.08 540.8h6" fill="none" stroke="#111" stroke-width="1"/>
<path d="M46.85 323.05V558.1H328" fill="none" stroke="#000" stroke-width="1.85"/>
<path d="M41.25 558.1H46.85" stroke="#111" stroke-width="1.7"/>
<text x="36.85" y="563.1" text-anchor="end" font-size="14.3">0</text>
<path d="M41.25 499.45H46.85" stroke="#111" stroke-width="1.7"/>
<text x="36.85" y="504.45" text-anchor="end" font-size="14.3">20</text>
<path d="M41.25 440.8H46.85" stroke="#111" stroke-width="1.7"/>
<text x="36.85" y="445.8" text-anchor="end" font-size="14.3">40</text>
<path d="M41.25 382.15H46.85" stroke="#111" stroke-width="1.7"/>
<text x="36.85" y="387.15" text-anchor="end" font-size="14.3">60</text>
<path d="M41.25 323.5H46.85" stroke="#111" stroke-width="1.7"/>
<text x="36.85" y="328.5" text-anchor="end" font-size="14.3">80</text>
<path d="M67.4 558.1v5.6" stroke="#111" stroke-width="1.7"/>
<text x="67.4" y="577.4" text-anchor="middle" font-size="14.3">Y1</text>
<path d="M101.64 558.1v5.6" stroke="#111" stroke-width="1.7"/>
<text x="101.64" y="577.4" text-anchor="middle" font-size="14.3">Y2</text>
<path d="M135.88 558.1v5.6" stroke="#111" stroke-width="1.7"/>
<text x="135.88" y="577.4" text-anchor="middle" font-size="14.3">Y4</text>
<path d="M170.12 558.1v5.6" stroke="#111" stroke-width="1.7"/>
<text x="170.12" y="577.4" text-anchor="middle" font-size="14.3">Y5</text>
<path d="M204.36 558.1v5.6" stroke="#111" stroke-width="1.7"/>
<text x="204.36" y="577.4" text-anchor="middle" font-size="14.3">Y7</text>
<path d="M238.6 558.1v5.6" stroke="#111" stroke-width="1.7"/>
<text x="238.6" y="577.4" text-anchor="middle" font-size="14.3">Y8</text>
<path d="M272.84 558.1v5.6" stroke="#111" stroke-width="1.7"/>
<text x="272.84" y="577.4" text-anchor="middle" font-size="14.3">Y10</text>
<path d="M307.08 558.1v5.6" stroke="#111" stroke-width="1.7"/>
<text x="307.08" y="577.4" text-anchor="middle" font-size="14.3">Y11</text>
<text x="67.4" y="491.5" text-anchor="middle" font-size="14.3">c</text>
<text x="101.64" y="339" text-anchor="middle" font-size="14.3">a</text>
<text x="135.88" y="374.5" text-anchor="middle" font-size="14.3">ab</text>
<text x="170.12" y="413" text-anchor="middle" font-size="14.3">b</text>
<text x="204.36" y="441.5" text-anchor="middle" font-size="14.3">c</text>
<text x="238.6" y="446.5" text-anchor="middle" font-size="14.3">c</text>
<text x="272.84" y="457.5" text-anchor="middle" font-size="14.3">c</text>
<text x="307.08" y="447" text-anchor="middle" font-size="14.3">c</text>
<text transform="translate(14.6 440.9) rotate(-90)" text-anchor="middle" font-size="14.3">Gall index</text>
<path d="M414.8 322.7H682.4V556.6" fill="none" stroke="#222" stroke-width="1"/>
<rect x="423.05" y="529.41" width="21.7" height="27.19" fill="#C4AED6" stroke="#111" stroke-width="1"/>
<rect x="455.78" y="529.41" width="21.7" height="27.19" fill="#9467BD" stroke="#111" stroke-width="1"/>
<rect x="488.51" y="517.42" width="21.7" height="39.18" fill="#FDBB75" stroke="#111" stroke-width="1"/>
<rect x="521.24" y="485.52" width="21.7" height="71.08" fill="#EDA338" stroke="#111" stroke-width="1"/>
<rect x="553.97" y="495.99" width="21.7" height="60.61" fill="#98DF8A" stroke="#111" stroke-width="1"/>
<rect x="586.7" y="473.78" width="21.7" height="82.82" fill="#5CB85C" stroke="#111" stroke-width="1"/>
<rect x="619.43" y="488.26" width="21.7" height="68.34" fill="#9EDAE5" stroke="#111" stroke-width="1"/>
<rect x="652.16" y="446.32" width="21.7" height="110.28" fill="#42B4DA" stroke="#111" stroke-width="1"/>
<circle cx="434.92" cy="530.76" r="1.25" fill="#B9A3CC" stroke="#1a1a1a" stroke-width="0.55"/>
<circle cx="433.27" cy="530.6" r="1.25" fill="#B9A3CC" stroke="#1a1a1a" stroke-width="0.55"/>
<circle cx="433.47" cy="534.3" r="1.25" fill="#B9A3CC" stroke="#1a1a1a" stroke-width="0.55"/>
<circle cx="434.75" cy="523.56" r="1.25" fill="#B9A3CC" stroke="#1a1a1a" stroke-width="0.55"/>
<circle cx="434.4" cy="523.95" r="1.25" fill="#B9A3CC" stroke="#1a1a1a" stroke-width="0.55"/>
<circle cx="434.27" cy="527.33" r="1.25" fill="#B9A3CC" stroke="#1a1a1a" stroke-width="0.55"/>
<circle cx="435.61" cy="538.18" r="1.25" fill="#B9A3CC" stroke="#1a1a1a" stroke-width="0.55"/>
<circle cx="434.9" cy="526.74" r="1.25" fill="#B9A3CC" stroke="#1a1a1a" stroke-width="0.55"/>
<circle cx="430.41" cy="538.31" r="1.25" fill="#B9A3CC" stroke="#1a1a1a" stroke-width="0.55"/>
<circle cx="432.96" cy="534.09" r="1.25" fill="#B9A3CC" stroke="#1a1a1a" stroke-width="0.55"/>
<circle cx="466.54" cy="527.69" r="1.25" fill="#7B52A8" stroke="#1a1a1a" stroke-width="0.55"/>
<circle cx="465.35" cy="526.48" r="1.25" fill="#7B52A8" stroke="#1a1a1a" stroke-width="0.55"/>
<circle cx="467.42" cy="527.68" r="1.25" fill="#7B52A8" stroke="#1a1a1a" stroke-width="0.55"/>
<circle cx="470.07" cy="533.12" r="1.25" fill="#7B52A8" stroke="#1a1a1a" stroke-width="0.55"/>
<circle cx="469.02" cy="526.28" r="1.25" fill="#7B52A8" stroke="#1a1a1a" stroke-width="0.55"/>
<circle cx="465.15" cy="532.89" r="1.25" fill="#7B52A8" stroke="#1a1a1a" stroke-width="0.55"/>
<circle cx="466.42" cy="531.34" r="1.25" fill="#7B52A8" stroke="#1a1a1a" stroke-width="0.55"/>
<circle cx="467.13" cy="525.86" r="1.25" fill="#7B52A8" stroke="#1a1a1a" stroke-width="0.55"/>
<circle cx="464.72" cy="531.92" r="1.25" fill="#7B52A8" stroke="#1a1a1a" stroke-width="0.55"/>
<circle cx="469.07" cy="532.33" r="1.25" fill="#7B52A8" stroke="#1a1a1a" stroke-width="0.55"/>
<circle cx="467.12" cy="533.94" r="1.25" fill="#7B52A8" stroke="#1a1a1a" stroke-width="0.55"/>
<circle cx="463.65" cy="527.01" r="1.25" fill="#7B52A8" stroke="#1a1a1a" stroke-width="0.55"/>
<circle cx="469.24" cy="529.14" r="1.25" fill="#7B52A8" stroke="#1a1a1a" stroke-width="0.55"/>
<circle cx="465.99" cy="540.72" r="1.25" fill="#7B52A8" stroke="#1a1a1a" stroke-width="0.55"/>
<circle cx="465" cy="530" r="1.25" fill="#7B52A8" stroke="#1a1a1a" stroke-width="0.55"/>
<circle cx="466.51" cy="526.62" r="1.25" fill="#7B52A8" stroke="#1a1a1a" stroke-width="0.55"/>
<circle cx="468.29" cy="537.63" r="1.25" fill="#7B52A8" stroke="#1a1a1a" stroke-width="0.55"/>
<circle cx="468.52" cy="525.65" r="1.25" fill="#7B52A8" stroke="#1a1a1a" stroke-width="0.55"/>
<circle cx="467.35" cy="521.32" r="1.25" fill="#7B52A8" stroke="#1a1a1a" stroke-width="0.55"/>
<circle cx="464.03" cy="528.74" r="1.25" fill="#7B52A8" stroke="#1a1a1a" stroke-width="0.55"/>
<circle cx="465.41" cy="525.95" r="1.25" fill="#7B52A8" stroke="#1a1a1a" stroke-width="0.55"/>
<circle cx="464.1" cy="531.95" r="1.25" fill="#7B52A8" stroke="#1a1a1a" stroke-width="0.55"/>
<circle cx="465.57" cy="534.84" r="1.25" fill="#7B52A8" stroke="#1a1a1a" stroke-width="0.55"/>
<circle cx="462.57" cy="522.17" r="1.25" fill="#7B52A8" stroke="#1a1a1a" stroke-width="0.55"/>
<circle cx="467.11" cy="537.59" r="1.25" fill="#7B52A8" stroke="#1a1a1a" stroke-width="0.55"/>
<circle cx="467.79" cy="521.31" r="1.25" fill="#7B52A8" stroke="#1a1a1a" stroke-width="0.55"/>
<circle cx="461.59" cy="540.07" r="1.25" fill="#7B52A8" stroke="#1a1a1a" stroke-width="0.55"/>
<circle cx="465.16" cy="527.4" r="1.25" fill="#7B52A8" stroke="#1a1a1a" stroke-width="0.55"/>
<circle cx="468.58" cy="535.7" r="1.25" fill="#7B52A8" stroke="#1a1a1a" stroke-width="0.55"/>
<circle cx="466.94" cy="523.22" r="1.25" fill="#7B52A8" stroke="#1a1a1a" stroke-width="0.55"/>
<circle cx="465.3" cy="513.47" r="1.25" fill="#7B52A8" stroke="#1a1a1a" stroke-width="0.55"/>
<circle cx="465.1" cy="513.47" r="1.25" fill="#7B52A8" stroke="#1a1a1a" stroke-width="0.55"/>
<circle cx="500.6" cy="509.12" r="1.25" fill="#F0A860" stroke="#1a1a1a" stroke-width="0.55"/>
<circle cx="500.46" cy="520.44" r="1.25" fill="#F0A860" stroke="#1a1a1a" stroke-width="0.55"/>
<circle cx="501.27" cy="512.41" r="1.25" fill="#F0A860" stroke="#1a1a1a" stroke-width="0.55"/>
<circle cx="495.41" cy="520.33" r="1.25" fill="#F0A860" stroke="#1a1a1a" stroke-width="0.55"/>
<circle cx="501.04" cy="532.57" r="1.25" fill="#F0A860" stroke="#1a1a1a" stroke-width="0.55"/>
<circle cx="501.4" cy="527.84" r="1.25" fill="#F0A860" stroke="#1a1a1a" stroke-width="0.55"/>
<circle cx="502.58" cy="539.7" r="1.25" fill="#F0A860" stroke="#1a1a1a" stroke-width="0.55"/>
<circle cx="499.06" cy="520.09" r="1.25" fill="#F0A860" stroke="#1a1a1a" stroke-width="0.55"/>
<circle cx="500.66" cy="522.48" r="1.25" fill="#F0A860" stroke="#1a1a1a" stroke-width="0.55"/>
<circle cx="501.65" cy="524.63" r="1.25" fill="#F0A860" stroke="#1a1a1a" stroke-width="0.55"/>
<circle cx="498.53" cy="532.86" r="1.25" fill="#F0A860" stroke="#1a1a1a" stroke-width="0.55"/>
<circle cx="499.41" cy="514.94" r="1.25" fill="#F0A860" stroke="#1a1a1a" stroke-width="0.55"/>
<circle cx="501.25" cy="535.17" r="1.25" fill="#F0A860" stroke="#1a1a1a" stroke-width="0.55"/>
<circle cx="498.47" cy="510.48" r="1.25" fill="#F0A860" stroke="#1a1a1a" stroke-width="0.55"/>
<circle cx="499.09" cy="540.43" r="1.25" fill="#F0A860" stroke="#1a1a1a" stroke-width="0.55"/>
<circle cx="498.76" cy="527.47" r="1.25" fill="#F0A860" stroke="#1a1a1a" stroke-width="0.55"/>
<circle cx="497.31" cy="511.11" r="1.25" fill="#F0A860" stroke="#1a1a1a" stroke-width="0.55"/>
<circle cx="496.82" cy="512.63" r="1.25" fill="#F0A860" stroke="#1a1a1a" stroke-width="0.55"/>
<circle cx="500.62" cy="534.18" r="1.25" fill="#F0A860" stroke="#1a1a1a" stroke-width="0.55"/>
<circle cx="501.08" cy="514.02" r="1.25" fill="#F0A860" stroke="#1a1a1a" stroke-width="0.55"/>
<circle cx="499.64" cy="522.27" r="1.25" fill="#F0A860" stroke="#1a1a1a" stroke-width="0.55"/>
<circle cx="500.51" cy="524.3" r="1.25" fill="#F0A860" stroke="#1a1a1a" stroke-width="0.55"/>
<circle cx="499.91" cy="527.76" r="1.25" fill="#F0A860" stroke="#1a1a1a" stroke-width="0.55"/>
<circle cx="499.36" cy="519.87" r="1.25" fill="#F0A860" stroke="#1a1a1a" stroke-width="0.55"/>
<circle cx="500.49" cy="517.86" r="1.25" fill="#F0A860" stroke="#1a1a1a" stroke-width="0.55"/>
<circle cx="500.01" cy="504.74" r="1.25" fill="#F0A860" stroke="#1a1a1a" stroke-width="0.55"/>
<circle cx="499.82" cy="445.5" r="1.25" fill="#F0A860" stroke="#1a1a1a" stroke-width="0.55"/>
<circle cx="497.95" cy="465.96" r="1.25" fill="#F0A860" stroke="#1a1a1a" stroke-width="0.55"/>
<circle cx="498.37" cy="474.74" r="1.25" fill="#F0A860" stroke="#1a1a1a" stroke-width="0.55"/>
<circle cx="498.75" cy="482.04" r="1.25" fill="#F0A860" stroke="#1a1a1a" stroke-width="0.55"/>
<circle cx="532.86" cy="499.64" r="1.25" fill="#D98E28" stroke="#1a1a1a" stroke-width="0.55"/>
<circle cx="526.96" cy="461.51" r="1.25" fill="#D98E28" stroke="#1a1a1a" stroke-width="0.55"/>
<circle cx="532.58" cy="513.46" r="1.25" fill="#D98E28" stroke="#1a1a1a" stroke-width="0.55"/>
<circle cx="532.57" cy="486.75" r="1.25" fill="#D98E28" stroke="#1a1a1a" stroke-width="0.55"/>
<circle cx="533.4" cy="501.3" r="1.25" fill="#D98E28" stroke="#1a1a1a" stroke-width="0.55"/>
<circle cx="531.05" cy="488.79" r="1.25" fill="#D98E28" stroke="#1a1a1a" stroke-width="0.55"/>
<circle cx="530.98" cy="487.51" r="1.25" fill="#D98E28" stroke="#1a1a1a" stroke-width="0.55"/>
<circle cx="531.64" cy="495.48" r="1.25" fill="#D98E28" stroke="#1a1a1a" stroke-width="0.55"/>
<circle cx="526.63" cy="494.84" r="1.25" fill="#D98E28" stroke="#1a1a1a" stroke-width="0.55"/>
<circle cx="534.11" cy="502.28" r="1.25" fill="#D98E28" stroke="#1a1a1a" stroke-width="0.55"/>
<circle cx="531.96" cy="514.24" r="1.25" fill="#D98E28" stroke="#1a1a1a" stroke-width="0.55"/>
<circle cx="533.8" cy="477.01" r="1.25" fill="#D98E28" stroke="#1a1a1a" stroke-width="0.55"/>
<circle cx="528.69" cy="467.58" r="1.25" fill="#D98E28" stroke="#1a1a1a" stroke-width="0.55"/>
<circle cx="531.41" cy="499.94" r="1.25" fill="#D98E28" stroke="#1a1a1a" stroke-width="0.55"/>
<circle cx="534.27" cy="482.81" r="1.25" fill="#D98E28" stroke="#1a1a1a" stroke-width="0.55"/>
<circle cx="529.19" cy="474.64" r="1.25" fill="#D98E28" stroke="#1a1a1a" stroke-width="0.55"/>
<circle cx="529.11" cy="481.76" r="1.25" fill="#D98E28" stroke="#1a1a1a" stroke-width="0.55"/>
<circle cx="534.48" cy="490.65" r="1.25" fill="#D98E28" stroke="#1a1a1a" stroke-width="0.55"/>
<circle cx="532.47" cy="496.36" r="1.25" fill="#D98E28" stroke="#1a1a1a" stroke-width="0.55"/>
<circle cx="532.37" cy="479.76" r="1.25" fill="#D98E28" stroke="#1a1a1a" stroke-width="0.55"/>
<circle cx="535.16" cy="495.29" r="1.25" fill="#D98E28" stroke="#1a1a1a" stroke-width="0.55"/>
<circle cx="531.5" cy="475.35" r="1.25" fill="#D98E28" stroke="#1a1a1a" stroke-width="0.55"/>
<circle cx="533.92" cy="513.86" r="1.25" fill="#D98E28" stroke="#1a1a1a" stroke-width="0.55"/>
<circle cx="532.35" cy="498.4" r="1.25" fill="#D98E28" stroke="#1a1a1a" stroke-width="0.55"/>
<circle cx="532.53" cy="481.37" r="1.25" fill="#D98E28" stroke="#1a1a1a" stroke-width="0.55"/>
<circle cx="529.04" cy="482.54" r="1.25" fill="#D98E28" stroke="#1a1a1a" stroke-width="0.55"/>
<circle cx="530.16" cy="482.95" r="1.25" fill="#D98E28" stroke="#1a1a1a" stroke-width="0.55"/>
<circle cx="529.15" cy="511.75" r="1.25" fill="#D98E28" stroke="#1a1a1a" stroke-width="0.55"/>
<circle cx="530.43" cy="379.71" r="1.25" fill="#D98E28" stroke="#1a1a1a" stroke-width="0.55"/>
<circle cx="532.73" cy="422.11" r="1.25" fill="#D98E28" stroke="#1a1a1a" stroke-width="0.55"/>
<circle cx="533.73" cy="427.96" r="1.25" fill="#D98E28" stroke="#1a1a1a" stroke-width="0.55"/>
<circle cx="561.56" cy="493.7" r="1.25" fill="#7FCB72" stroke="#1a1a1a" stroke-width="0.55"/>
<circle cx="564.99" cy="510.48" r="1.25" fill="#7FCB72" stroke="#1a1a1a" stroke-width="0.55"/>
<circle cx="563.08" cy="495.75" r="1.25" fill="#7FCB72" stroke="#1a1a1a" stroke-width="0.55"/>
<circle cx="559.75" cy="484.88" r="1.25" fill="#7FCB72" stroke="#1a1a1a" stroke-width="0.55"/>
<circle cx="566.05" cy="513.69" r="1.25" fill="#7FCB72" stroke="#1a1a1a" stroke-width="0.55"/>
<circle cx="563.77" cy="472.97" r="1.25" fill="#7FCB72" stroke="#1a1a1a" stroke-width="0.55"/>
<circle cx="565.73" cy="495.18" r="1.25" fill="#7FCB72" stroke="#1a1a1a" stroke-width="0.55"/>
<circle cx="568.35" cy="477.44" r="1.25" fill="#7FCB72" stroke="#1a1a1a" stroke-width="0.55"/>
<circle cx="563.77" cy="496.16" r="1.25" fill="#7FCB72" stroke="#1a1a1a" stroke-width="0.55"/>
<circle cx="559.85" cy="476.85" r="1.25" fill="#7FCB72" stroke="#1a1a1a" stroke-width="0.55"/>
<circle cx="563.27" cy="508.55" r="1.25" fill="#7FCB72" stroke="#1a1a1a" stroke-width="0.55"/>
<circle cx="564.5" cy="508.45" r="1.25" fill="#7FCB72" stroke="#1a1a1a" stroke-width="0.55"/>
<circle cx="563.38" cy="495.42" r="1.25" fill="#7FCB72" stroke="#1a1a1a" stroke-width="0.55"/>
<circle cx="566.77" cy="516.92" r="1.25" fill="#7FCB72" stroke="#1a1a1a" stroke-width="0.55"/>
<circle cx="567.41" cy="507.17" r="1.25" fill="#7FCB72" stroke="#1a1a1a" stroke-width="0.55"/>
<circle cx="565.19" cy="523.26" r="1.25" fill="#7FCB72" stroke="#1a1a1a" stroke-width="0.55"/>
<circle cx="564.42" cy="486.62" r="1.25" fill="#7FCB72" stroke="#1a1a1a" stroke-width="0.55"/>
<circle cx="563.49" cy="487.04" r="1.25" fill="#7FCB72" stroke="#1a1a1a" stroke-width="0.55"/>
<circle cx="563.89" cy="506.61" r="1.25" fill="#7FCB72" stroke="#1a1a1a" stroke-width="0.55"/>
<circle cx="566.4" cy="495.06" r="1.25" fill="#7FCB72" stroke="#1a1a1a" stroke-width="0.55"/>
<circle cx="562.26" cy="508.37" r="1.25" fill="#7FCB72" stroke="#1a1a1a" stroke-width="0.55"/>
<circle cx="566.54" cy="493.55" r="1.25" fill="#7FCB72" stroke="#1a1a1a" stroke-width="0.55"/>
<circle cx="566.87" cy="509.96" r="1.25" fill="#7FCB72" stroke="#1a1a1a" stroke-width="0.55"/>
<circle cx="562.43" cy="509.82" r="1.25" fill="#7FCB72" stroke="#1a1a1a" stroke-width="0.55"/>
<circle cx="566.96" cy="503.83" r="1.25" fill="#7FCB72" stroke="#1a1a1a" stroke-width="0.55"/>
<circle cx="564.89" cy="497.37" r="1.25" fill="#7FCB72" stroke="#1a1a1a" stroke-width="0.55"/>
<circle cx="565.19" cy="498.17" r="1.25" fill="#7FCB72" stroke="#1a1a1a" stroke-width="0.55"/>
<circle cx="564.71" cy="419.18" r="1.25" fill="#7FCB72" stroke="#1a1a1a" stroke-width="0.55"/>
<circle cx="565.72" cy="438.19" r="1.25" fill="#7FCB72" stroke="#1a1a1a" stroke-width="0.55"/>
<circle cx="565.05" cy="452.81" r="1.25" fill="#7FCB72" stroke="#1a1a1a" stroke-width="0.55"/>
<circle cx="596.44" cy="485.01" r="1.25" fill="#4AA34A" stroke="#1a1a1a" stroke-width="0.55"/>
<circle cx="594.26" cy="455.9" r="1.25" fill="#4AA34A" stroke="#1a1a1a" stroke-width="0.55"/>
<circle cx="599.56" cy="485.22" r="1.25" fill="#4AA34A" stroke="#1a1a1a" stroke-width="0.55"/>
<circle cx="597.57" cy="460.83" r="1.25" fill="#4AA34A" stroke="#1a1a1a" stroke-width="0.55"/>
<circle cx="597.88" cy="460.61" r="1.25" fill="#4AA34A" stroke="#1a1a1a" stroke-width="0.55"/>
<circle cx="594.42" cy="495.42" r="1.25" fill="#4AA34A" stroke="#1a1a1a" stroke-width="0.55"/>
<circle cx="599.4" cy="485.94" r="1.25" fill="#4AA34A" stroke="#1a1a1a" stroke-width="0.55"/>
<circle cx="595.75" cy="484.66" r="1.25" fill="#4AA34A" stroke="#1a1a1a" stroke-width="0.55"/>
<circle cx="594.49" cy="488.26" r="1.25" fill="#4AA34A" stroke="#1a1a1a" stroke-width="0.55"/>
<circle cx="595.19" cy="476.79" r="1.25" fill="#4AA34A" stroke="#1a1a1a" stroke-width="0.55"/>
<circle cx="592.83" cy="468.35" r="1.25" fill="#4AA34A" stroke="#1a1a1a" stroke-width="0.55"/>
<circle cx="596.27" cy="468.98" r="1.25" fill="#4AA34A" stroke="#1a1a1a" stroke-width="0.55"/>
<circle cx="599" cy="508.81" r="1.25" fill="#4AA34A" stroke="#1a1a1a" stroke-width="0.55"/>
<circle cx="593.09" cy="479.57" r="1.25" fill="#4AA34A" stroke="#1a1a1a" stroke-width="0.55"/>
<circle cx="598.13" cy="490.09" r="1.25" fill="#4AA34A" stroke="#1a1a1a" stroke-width="0.55"/>
<circle cx="599.11" cy="482.78" r="1.25" fill="#4AA34A" stroke="#1a1a1a" stroke-width="0.55"/>
<circle cx="598.88" cy="461.62" r="1.25" fill="#4AA34A" stroke="#1a1a1a" stroke-width="0.55"/>
<circle cx="600.22" cy="469.01" r="1.25" fill="#4AA34A" stroke="#1a1a1a" stroke-width="0.55"/>
<circle cx="598.45" cy="463.16" r="1.25" fill="#4AA34A" stroke="#1a1a1a" stroke-width="0.55"/>
<circle cx="599.34" cy="511.29" r="1.25" fill="#4AA34A" stroke="#1a1a1a" stroke-width="0.55"/>
<circle cx="596.96" cy="451.76" r="1.25" fill="#4AA34A" stroke="#1a1a1a" stroke-width="0.55"/>
<circle cx="601.43" cy="482.97" r="1.25" fill="#4AA34A" stroke="#1a1a1a" stroke-width="0.55"/>
<circle cx="598.49" cy="505.58" r="1.25" fill="#4AA34A" stroke="#1a1a1a" stroke-width="0.55"/>
<circle cx="598.93" cy="491.01" r="1.25" fill="#4AA34A" stroke="#1a1a1a" stroke-width="0.55"/>
<circle cx="597.31" cy="441.64" r="1.25" fill="#4AA34A" stroke="#1a1a1a" stroke-width="0.55"/>
<circle cx="599.36" cy="464.89" r="1.25" fill="#4AA34A" stroke="#1a1a1a" stroke-width="0.55"/>
<circle cx="597.37" cy="490.62" r="1.25" fill="#4AA34A" stroke="#1a1a1a" stroke-width="0.55"/>
<circle cx="596.33" cy="433.8" r="1.25" fill="#4AA34A" stroke="#1a1a1a" stroke-width="0.55"/>
<circle cx="596.82" cy="438.19" r="1.25" fill="#4AA34A" stroke="#1a1a1a" stroke-width="0.55"/>
<circle cx="598.44" cy="441.11" r="1.25" fill="#4AA34A" stroke="#1a1a1a" stroke-width="0.55"/>
<circle cx="630.59" cy="468.7" r="1.25" fill="#88C6D2" stroke="#1a1a1a" stroke-width="0.55"/>
<circle cx="630.42" cy="492.27" r="1.25" fill="#88C6D2" stroke="#1a1a1a" stroke-width="0.55"/>
<circle cx="632.72" cy="500.57" r="1.25" fill="#88C6D2" stroke="#1a1a1a" stroke-width="0.55"/>
<circle cx="630.22" cy="495.3" r="1.25" fill="#88C6D2" stroke="#1a1a1a" stroke-width="0.55"/>
<circle cx="629.95" cy="460.63" r="1.25" fill="#88C6D2" stroke="#1a1a1a" stroke-width="0.55"/>
<circle cx="630.11" cy="481.77" r="1.25" fill="#88C6D2" stroke="#1a1a1a" stroke-width="0.55"/>
<circle cx="630.85" cy="489.81" r="1.25" fill="#88C6D2" stroke="#1a1a1a" stroke-width="0.55"/>
<circle cx="628.72" cy="487" r="1.25" fill="#88C6D2" stroke="#1a1a1a" stroke-width="0.55"/>
<circle cx="631.8" cy="477.58" r="1.25" fill="#88C6D2" stroke="#1a1a1a" stroke-width="0.55"/>
<circle cx="628.33" cy="463.65" r="1.25" fill="#88C6D2" stroke="#1a1a1a" stroke-width="0.55"/>
<circle cx="631.42" cy="489.86" r="1.25" fill="#88C6D2" stroke="#1a1a1a" stroke-width="0.55"/>
<circle cx="629.02" cy="470.75" r="1.25" fill="#88C6D2" stroke="#1a1a1a" stroke-width="0.55"/>
<circle cx="629.46" cy="491.53" r="1.25" fill="#88C6D2" stroke="#1a1a1a" stroke-width="0.55"/>
<circle cx="631.36" cy="465.97" r="1.25" fill="#88C6D2" stroke="#1a1a1a" stroke-width="0.55"/>
<circle cx="630.63" cy="495.02" r="1.25" fill="#88C6D2" stroke="#1a1a1a" stroke-width="0.55"/>
<circle cx="629.21" cy="467.85" r="1.25" fill="#88C6D2" stroke="#1a1a1a" stroke-width="0.55"/>
<circle cx="629.49" cy="487.17" r="1.25" fill="#88C6D2" stroke="#1a1a1a" stroke-width="0.55"/>
<circle cx="629.7" cy="485.59" r="1.25" fill="#88C6D2" stroke="#1a1a1a" stroke-width="0.55"/>
<circle cx="628.61" cy="477.64" r="1.25" fill="#88C6D2" stroke="#1a1a1a" stroke-width="0.55"/>
<circle cx="632.43" cy="500.39" r="1.25" fill="#88C6D2" stroke="#1a1a1a" stroke-width="0.55"/>
<circle cx="629.58" cy="477.77" r="1.25" fill="#88C6D2" stroke="#1a1a1a" stroke-width="0.55"/>
<circle cx="632.06" cy="475.57" r="1.25" fill="#88C6D2" stroke="#1a1a1a" stroke-width="0.55"/>
<circle cx="631.24" cy="488.78" r="1.25" fill="#88C6D2" stroke="#1a1a1a" stroke-width="0.55"/>
<circle cx="630.83" cy="486.57" r="1.25" fill="#88C6D2" stroke="#1a1a1a" stroke-width="0.55"/>
<circle cx="631.93" cy="485.13" r="1.25" fill="#88C6D2" stroke="#1a1a1a" stroke-width="0.55"/>
<circle cx="633.46" cy="498.72" r="1.25" fill="#88C6D2" stroke="#1a1a1a" stroke-width="0.55"/>
<circle cx="632.56" cy="494.14" r="1.25" fill="#88C6D2" stroke="#1a1a1a" stroke-width="0.55"/>
<circle cx="628.99" cy="444.04" r="1.25" fill="#88C6D2" stroke="#1a1a1a" stroke-width="0.55"/>
<circle cx="629.67" cy="451.35" r="1.25" fill="#88C6D2" stroke="#1a1a1a" stroke-width="0.55"/>
<circle cx="663.18" cy="434" r="1.25" fill="#2F9CC4" stroke="#1a1a1a" stroke-width="0.55"/>
<circle cx="663.32" cy="415.83" r="1.25" fill="#2F9CC4" stroke="#1a1a1a" stroke-width="0.55"/>
<circle cx="662.6" cy="462.83" r="1.25" fill="#2F9CC4" stroke="#1a1a1a" stroke-width="0.55"/>
<circle cx="665.91" cy="442.12" r="1.25" fill="#2F9CC4" stroke="#1a1a1a" stroke-width="0.55"/>
<circle cx="660.88" cy="425.78" r="1.25" fill="#2F9CC4" stroke="#1a1a1a" stroke-width="0.55"/>
<circle cx="664.02" cy="439.71" r="1.25" fill="#2F9CC4" stroke="#1a1a1a" stroke-width="0.55"/>
<circle cx="659.96" cy="468.02" r="1.25" fill="#2F9CC4" stroke="#1a1a1a" stroke-width="0.55"/>
<circle cx="664.83" cy="451.23" r="1.25" fill="#2F9CC4" stroke="#1a1a1a" stroke-width="0.55"/>
<circle cx="664.56" cy="452.01" r="1.25" fill="#2F9CC4" stroke="#1a1a1a" stroke-width="0.55"/>
<circle cx="661.67" cy="478.55" r="1.25" fill="#2F9CC4" stroke="#1a1a1a" stroke-width="0.55"/>
<circle cx="662.63" cy="466.05" r="1.25" fill="#2F9CC4" stroke="#1a1a1a" stroke-width="0.55"/>
<circle cx="663.54" cy="444.12" r="1.25" fill="#2F9CC4" stroke="#1a1a1a" stroke-width="0.55"/>
<circle cx="662.92" cy="444.01" r="1.25" fill="#2F9CC4" stroke="#1a1a1a" stroke-width="0.55"/>
<circle cx="663.45" cy="466.03" r="1.25" fill="#2F9CC4" stroke="#1a1a1a" stroke-width="0.55"/>
<circle cx="665.2" cy="442.32" r="1.25" fill="#2F9CC4" stroke="#1a1a1a" stroke-width="0.55"/>
<circle cx="662.23" cy="485.64" r="1.25" fill="#2F9CC4" stroke="#1a1a1a" stroke-width="0.55"/>
<circle cx="663.09" cy="464.92" r="1.25" fill="#2F9CC4" stroke="#1a1a1a" stroke-width="0.55"/>
<circle cx="661.88" cy="432.37" r="1.25" fill="#2F9CC4" stroke="#1a1a1a" stroke-width="0.55"/>
<circle cx="661.54" cy="446.78" r="1.25" fill="#2F9CC4" stroke="#1a1a1a" stroke-width="0.55"/>
<circle cx="668.22" cy="444.39" r="1.25" fill="#2F9CC4" stroke="#1a1a1a" stroke-width="0.55"/>
<circle cx="661.58" cy="463.31" r="1.25" fill="#2F9CC4" stroke="#1a1a1a" stroke-width="0.55"/>
<circle cx="664.69" cy="454.48" r="1.25" fill="#2F9CC4" stroke="#1a1a1a" stroke-width="0.55"/>
<circle cx="662.95" cy="453.76" r="1.25" fill="#2F9CC4" stroke="#1a1a1a" stroke-width="0.55"/>
<circle cx="661.34" cy="449.12" r="1.25" fill="#2F9CC4" stroke="#1a1a1a" stroke-width="0.55"/>
<circle cx="661.67" cy="433.71" r="1.25" fill="#2F9CC4" stroke="#1a1a1a" stroke-width="0.55"/>
<circle cx="662.81" cy="450.13" r="1.25" fill="#2F9CC4" stroke="#1a1a1a" stroke-width="0.55"/>
<circle cx="662.93" cy="449.95" r="1.25" fill="#2F9CC4" stroke="#1a1a1a" stroke-width="0.55"/>
<circle cx="662.61" cy="332.93" r="1.25" fill="#2F9CC4" stroke="#1a1a1a" stroke-width="0.55"/>
<circle cx="661.18" cy="401.64" r="1.25" fill="#2F9CC4" stroke="#1a1a1a" stroke-width="0.55"/>
<circle cx="661.1" cy="406.03" r="1.25" fill="#2F9CC4" stroke="#1a1a1a" stroke-width="0.55"/>
<circle cx="662.23" cy="410.41" r="1.25" fill="#2F9CC4" stroke="#1a1a1a" stroke-width="0.55"/>
<path d="M433.9 522.19V536.65M430.8 522.19h6.2M430.8 536.65h6.2" fill="none" stroke="#111" stroke-width="1"/>
<path d="M466.63 522.39V536.57M463.53 522.39h6.2M463.53 536.57h6.2" fill="none" stroke="#111" stroke-width="1"/>
<path d="M499.36 493.74V541.65M496.26 493.74h6.2M496.26 541.65h6.2" fill="none" stroke="#111" stroke-width="1"/>
<path d="M532.09 453.32V519.18M528.99 453.32h6.2M528.99 519.18h6.2" fill="none" stroke="#111" stroke-width="1"/>
<path d="M564.82 468.8V523.44M561.72 468.8h6.2M561.72 523.44h6.2" fill="none" stroke="#111" stroke-width="1"/>
<path d="M597.55 450.8V496.74M594.45 450.8h6.2M594.45 496.74h6.2" fill="none" stroke="#111" stroke-width="1"/>
<path d="M630.28 466.55V509.97M627.18 466.55h6.2M627.18 509.97h6.2" fill="none" stroke="#111" stroke-width="1"/>
<path d="M663.01 412.71V481.77M659.91 412.71h6.2M659.91 481.77h6.2" fill="none" stroke="#111" stroke-width="1"/>
<path d="M414.8 322.25V556.6H682.9" fill="none" stroke="#000" stroke-width="1.85"/>
<path d="M409.4 556.6H414.8" stroke="#111" stroke-width="1.7"/>
<text x="409" y="561.6" text-anchor="end" font-size="14.3">0</text>
<path d="M409.4 498.12H414.8" stroke="#111" stroke-width="1.7"/>
<text x="409" y="503.12" text-anchor="end" font-size="14.3">4000</text>
<path d="M409.4 439.65H414.8" stroke="#111" stroke-width="1.7"/>
<text x="409" y="444.65" text-anchor="end" font-size="14.3">8000</text>
<path d="M409.4 381.18H414.8" stroke="#111" stroke-width="1.7"/>
<text x="409" y="386.18" text-anchor="end" font-size="14.3">12000</text>
<path d="M409.4 322.7H414.8" stroke="#111" stroke-width="1.7"/>
<text x="409" y="327.7" text-anchor="end" font-size="14.3">16000</text>
<path d="M433.9 556.6v5.6" stroke="#111" stroke-width="1.7"/>
<text x="433.9" y="575.9" text-anchor="middle" font-size="14.3">Y1</text>
<path d="M466.63 556.6v5.6" stroke="#111" stroke-width="1.7"/>
<text x="466.63" y="575.9" text-anchor="middle" font-size="14.3">Y2</text>
<path d="M499.36 556.6v5.6" stroke="#111" stroke-width="1.7"/>
<text x="499.36" y="575.9" text-anchor="middle" font-size="14.3">Y4</text>
<path d="M532.09 556.6v5.6" stroke="#111" stroke-width="1.7"/>
<text x="532.09" y="575.9" text-anchor="middle" font-size="14.3">Y5</text>
<path d="M564.82 556.6v5.6" stroke="#111" stroke-width="1.7"/>
<text x="564.82" y="575.9" text-anchor="middle" font-size="14.3">Y7</text>
<path d="M597.55 556.6v5.6" stroke="#111" stroke-width="1.7"/>
<text x="597.55" y="575.9" text-anchor="middle" font-size="14.3">Y8</text>
<path d="M630.28 556.6v5.6" stroke="#111" stroke-width="1.7"/>
<text x="630.28" y="575.9" text-anchor="middle" font-size="14.3">Y10</text>
<path d="M663.01 556.6v5.6" stroke="#111" stroke-width="1.7"/>
<text x="663.01" y="575.9" text-anchor="middle" font-size="14.3">Y11</text>
<text x="433.9" y="509.4" text-anchor="middle" font-size="14.3">d</text>
<text x="466.63" y="509.4" text-anchor="middle" font-size="14.3">d</text>
<text x="499.36" y="441.5" text-anchor="middle" font-size="14.3">d</text>
<text x="534.09" y="411" text-anchor="middle" font-size="14.3">bc</text>
<text x="564.82" y="413" text-anchor="middle" font-size="14.3">c</text>
<text x="597.55" y="400" text-anchor="middle" font-size="14.3">b</text>
<text x="630.28" y="421" text-anchor="middle" font-size="14.3">c</text>
<text x="663.01" y="379.5" text-anchor="middle" font-size="14.3">a</text>
<text transform="translate(363.9 438.2) rotate(-90)" text-anchor="middle" font-size="13.93">Nematode abundance per 100 g dry soil</text>
</svg>
</div>
</body></html>
